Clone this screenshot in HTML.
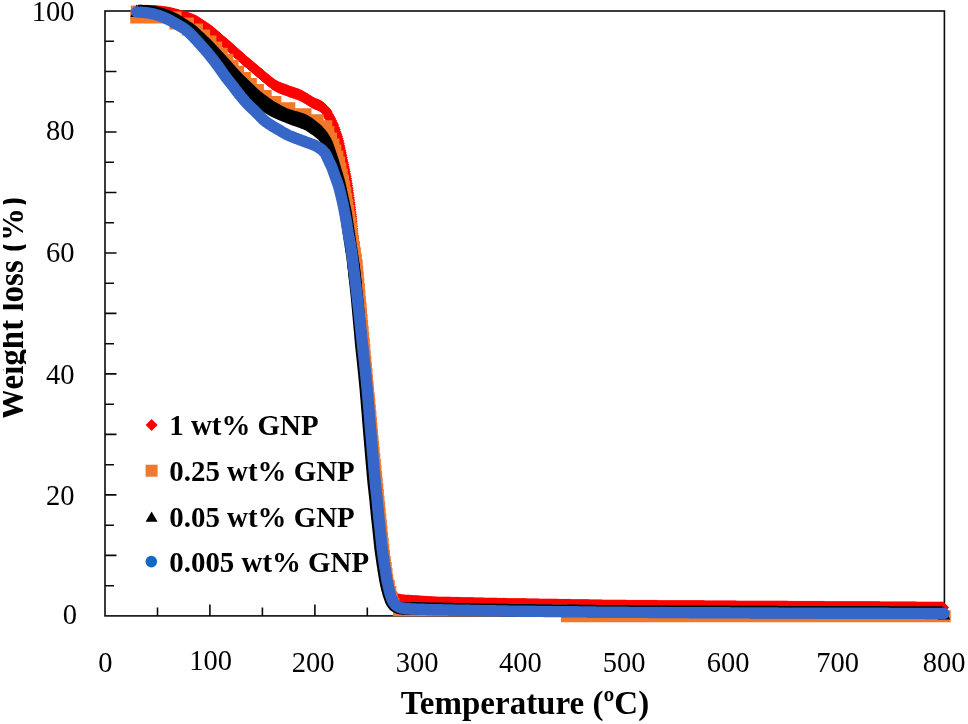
<!DOCTYPE html><html><head><meta charset="utf-8"><title>TGA</title><style>
html,body{margin:0;padding:0;background:#fff}
#c{position:relative;width:968px;height:724px;overflow:hidden;background:#fff;font-family:"Liberation Serif",serif;color:#000;will-change:transform}
.t{position:absolute;white-space:nowrap;line-height:1}
.yl{font-size:28.5px;text-align:right}
.xl{font-size:28.5px;transform:translateX(-50%)}
.lg{font-size:28.9px;font-weight:bold;left:169.3px}
.ttl{font-size:33px;font-weight:bold}
#yclip{position:absolute;left:2.9px;top:180px;width:22.7px;height:260px;overflow:hidden}
</style></head><body><div id="c">
<svg width="968" height="724" viewBox="0 0 968 724" style="position:absolute;left:0;top:0">
<defs><marker id="md" markerUnits="userSpaceOnUse" markerWidth="14" markerHeight="14" refX="7" refY="7"><path d="M7,1L13,7L7,13L1,7Z" fill="#ff0000"/></marker></defs>
<g stroke="#0a0a0a" stroke-width="1.6" fill="none">
<rect x="105.0" y="11.0" width="839.4" height="604.9"/>
<path d="M105.0,585.7h9M105.0,555.4h11.5M105.0,525.2h9M105.0,494.9h11.5M105.0,464.7h9M105.0,434.4h11.5M105.0,404.2h9M105.0,373.9h11.5M105.0,343.7h9M105.0,313.4h11.5M105.0,283.2h9M105.0,253h11.5M105.0,222.7h9M105.0,192.5h11.5M105.0,162.2h9M105.0,132h11.5M105.0,101.7h9M105.0,71.5h11.5M105.0,41.2h9M157.5,615.9v-8.3M209.9,615.9v-11.5M262.4,615.9v-8.3M314.9,615.9v-11.5M367.3,615.9v-8.3M419.8,615.9v-11.5M472.2,615.9v-8.3M524.7,615.9v-11.5M577.2,615.9v-8.3M629.6,615.9v-11.5M682.1,615.9v-8.3M734.5,615.9v-11.5M787,615.9v-8.3M839.5,615.9v-11.5M891.9,615.9v-8.3"/></g>
<polyline points="138.4,10.8 138.8,10.8 139.4,10.8 140.1,10.8 140.9,10.8 141.7,10.8 142.5,10.8 143.3,10.8 144.1,10.8 144.9,10.8 145.7,10.8 146.5,10.8 147.3,10.8 148.1,10.8 148.9,10.9 149.7,10.9 150.5,10.9 151.3,10.9 152.1,11 152.9,11 153.7,11 154.5,11.1 155.3,11.1 156.1,11.1 156.9,11.2 157.7,11.3 158.5,11.3 159.3,11.4 160.1,11.5 160.9,11.6 161.6,11.7 162.4,11.8 163.2,11.9 164,12 164.8,12.1 165.6,12.2 166.4,12.3 167.2,12.4 168,12.6 168.8,12.7 169.6,12.8 170.3,13 171.1,13.2 171.9,13.4 172.7,13.6 173.5,13.8 174.2,14 175,14.2 175.8,14.4 176.5,14.6 177.3,14.8 178.1,15.1 178.8,15.3 179.6,15.5 180.4,15.7 181.2,15.9 181.9,16.1 182.7,16.4 183.5,16.6 184.2,16.8 185,17.1 185.8,17.3 186.5,17.5 187.3,17.8 188,18 188.8,18.3 189.5,18.6 190.3,18.8 191.1,19.1 191.8,19.4 192.6,19.6 193.3,19.9 194,20.2 194.8,20.6 195.5,20.9 196.2,21.3 196.9,21.7 197.6,22.1 198.2,22.5 198.9,23 199.6,23.4 200.2,23.8 200.9,24.3 201.6,24.7 202.3,25.2 202.9,25.6 203.6,26.1 204.3,26.5 204.9,26.9 205.6,27.4 206.3,27.8 206.9,28.3 207.6,28.7 208.2,29.2 208.9,29.6 209.5,30.1 210.2,30.6 210.8,31 211.5,31.5 212.1,32 212.7,32.6 213.3,33.1 213.9,33.6 214.5,34.1 215.1,34.6 215.7,35.2 216.3,35.7 216.9,36.2 217.6,36.7 218.2,37.2 218.8,37.8 219.4,38.3 220,38.8 220.6,39.3 221.2,39.8 221.8,40.4 222.4,40.9 223,41.4 223.6,41.9 224.2,42.4 224.8,43 225.4,43.5 226.1,44 226.7,44.5 227.3,45.1 227.9,45.6 228.5,46.1 229.1,46.6 229.7,47.2 230.3,47.7 230.9,48.2 231.5,48.8 232.1,49.3 232.7,49.8 233.3,50.4 233.9,50.9 234.5,51.4 235.1,51.9 235.7,52.5 236.2,53 236.8,53.5 237.4,54.1 238,54.6 238.6,55.1 239.2,55.7 239.8,56.2 240.4,56.7 241,57.3 241.6,57.8 242.2,58.3 242.8,58.9 243.4,59.4 244,59.9 244.6,60.4 245.2,61 245.8,61.5 246.4,62 247.1,62.5 247.7,63 248.3,63.6 248.9,64.1 249.5,64.6 250.1,65.1 250.7,65.6 251.3,66.1 252,66.6 252.6,67.1 253.2,67.7 253.8,68.2 254.4,68.7 255,69.2 255.6,69.7 256.3,70.2 256.9,70.7 257.5,71.2 258.1,71.8 258.7,72.3 259.3,72.8 260,73.3 260.6,73.8 261.2,74.3 261.8,74.8 262.4,75.3 263,75.9 263.6,76.4 264.3,76.9 264.9,77.4 265.5,77.9 266.1,78.4 266.7,78.9 267.3,79.5 267.9,80 268.5,80.5 269.1,81 269.7,81.5 270.4,82 271,82.5 271.6,83 272.3,83.5 272.9,84 273.6,84.4 274.2,84.9 274.9,85.3 275.6,85.7 276.3,86.1 277,86.5 277.7,86.8 278.4,87.2 279.2,87.5 279.9,87.8 280.6,88.1 281.4,88.4 282.1,88.7 282.9,89 283.6,89.2 284.4,89.5 285.1,89.8 285.9,90.1 286.6,90.3 287.4,90.6 288.1,90.9 288.9,91.2 289.6,91.4 290.4,91.7 291.2,92 291.9,92.2 292.7,92.5 293.4,92.7 294.2,93 294.9,93.3 295.7,93.5 296.4,93.8 297.2,94.1 298,94.3 298.7,94.6 299.4,94.9 300.2,95.3 300.9,95.6 301.6,96 302.3,96.3 303,96.7 303.7,97.1 304.4,97.5 305.1,97.9 305.8,98.3 306.5,98.7 307.2,99.1 307.8,99.6 308.5,100 309.2,100.4 309.9,100.8 310.6,101.3 311.2,101.7 311.9,102.1 312.6,102.5 313.3,102.9 314,103.2 314.8,103.6 315.5,103.9 316.2,104.2 317,104.5 317.7,104.8 318.4,105.1 319.2,105.5 319.9,105.8 320.6,106.2 321.3,106.6 322,107 322.6,107.4 323.2,108 323.8,108.5 324.3,109.1 324.8,109.7 325.3,110.3 325.8,111 326.2,111.6 326.7,112.3 327.9,114.4 329,116.5 330.1,118.6 331.2,120.8 332.2,122.9 333.2,125.1 334,127.4 334.8,129.6 335.5,131.9 336.3,134.2 337,136.5 337.7,138.8 338.4,141.1 338.9,143.4 339.4,145.8 339.9,148.1 340.4,150.5 340.9,152.8 341.4,155.2 341.9,157.5 342.4,159.9 342.8,162.2 343.3,164.6 343.8,166.9 344.3,169.3 344.7,171.6 345.2,174 345.7,176.3 346.1,178.7 346.5,181.1 346.9,183.4 347.2,185.8 347.6,188.2 347.9,190.6 348.2,192.9 348.5,195.3 348.9,197.7 349.2,200.1 349.5,202.5 349.8,204.8 350.1,207.2 350.4,209.6 350.7,212 350.9,214.4 351.2,216.8 351.4,219.1 351.6,221.5 351.8,223.9 352,226.3 352.2,228.7 352.4,231.1 352.6,233.5 352.8,235.9 353,238.3 353.2,240.7 353.4,243.1 353.5,245.5 353.7,247.9 353.8,250.2 354,252.6 354.2,255 354.3,257.4 354.5,259.8 354.6,262.2 354.8,264.6 355,267 355.1,269.4 355.3,271.8 355.5,274.2 355.6,276.6 355.8,279 356.1,281.4 356.4,283.7 356.7,286.1 357,288.5 357.3,290.9 357.6,293.3 357.9,295.7 358.2,298 358.5,300.4 358.7,302.8 359,305.2 359.2,307.6 359.5,310 359.8,312.3 360,314.7 360.3,317.1 360.6,319.5 360.8,321.9 361.1,324.3 361.4,326.7 361.6,329 361.9,331.4 362.1,333.8 362.4,336.2 362.6,338.6 362.9,341 363.1,343.4 363.4,345.8 363.7,348.1 363.9,350.5 364.2,352.9 364.5,355.3 364.7,357.7 365,360.1 365.2,362.4 365.5,364.8 365.8,367.2 366,369.6 366.3,372 366.5,374.4 366.7,376.8 367,379.2 367.2,381.5 367.4,383.9 367.7,386.3 367.9,388.7 368.1,391.1 368.4,393.5 368.6,395.9 368.8,398.3 369,400.7 369.2,403.1 369.4,405.4 369.6,407.8 369.8,410.2 370,412.6 370.2,415 370.4,417.4 370.6,419.8 370.8,422.2 371,424.6 371.2,427 371.4,429.4 371.6,431.8 371.8,434.1 372,436.5 372.2,438.9 372.4,441.3 372.6,443.7 372.8,446.1 373.1,448.5 373.3,450.9 373.5,453.3 373.7,455.7 373.9,458.1 374.1,460.4 374.3,462.8 374.5,465.2 374.7,467.6 374.9,470 375.1,472.4 375.3,474.8 375.5,477.2 375.8,479.6 376,482 376.2,484.4 376.5,486.7 376.7,489.1 377,491.5 377.3,493.9 377.5,496.3 377.8,498.7 378.1,501.1 378.3,503.4 378.5,505.8 378.7,508.2 379,510.6 379.2,513 379.4,515.4 379.7,517.8 379.9,520.2 380.2,522.5 380.5,524.9 380.7,527.3 381,529.7 381.2,532.1 381.5,534.5 381.7,536.9 382,539.2 382.2,541.6 382.5,544 382.7,546.4 383,548.8 383.3,551.2 383.6,553.6 384,555.9 384.3,558.3 384.7,560.7 385,563.1 385.4,565.4 385.7,567.8 386.1,570.2 386.5,572.5 386.9,574.9 387.3,577.3 387.7,579.6 388.1,582 388.7,584.3 389.2,586.7 389.8,589 390.7,591.2 391.3,592.7 391.6,593.4 392,594.1 392.4,594.8 392.8,595.5 393.3,596.1 393.9,596.7 394.4,597.2 395,597.7 395.7,598.2 396.4,598.6 397.1,598.9 397.8,599.2 398.6,599.4 399.4,599.6 400.1,599.8 400.9,599.9 401.7,600.1 402.5,600.2 403.3,600.2 404.1,600.3 404.9,600.4 405.7,600.4 406.5,600.5 407.3,600.5 408.1,600.6 408.9,600.6 409.7,600.7 410.5,600.7 411.3,600.8 412.1,600.8 412.9,600.9 413.7,600.9 414.5,601 415.3,601 416.1,601.1 416.9,601.1 417.7,601.2 418.5,601.2 419.3,601.3 420.1,601.3 420.9,601.4 421.7,601.5 422.5,601.5 423.3,601.6 424.1,601.6 424.9,601.7 425.7,601.7 426.5,601.8 427.3,601.8 428,601.9 428.8,601.9 429.6,602 430.4,602 431.2,602.1 432,602.1 432.8,602.2 433.6,602.2 434.4,602.2 435.2,602.3 436,602.3 436.8,602.3 437.6,602.4 438.4,602.4 439.2,602.4 440,602.4 440.8,602.4 441.6,602.4 442.4,602.5 443.2,602.5 444,602.5 444.8,602.5 445.6,602.5 446.4,602.5 447.2,602.6 448,602.6 448.8,602.6 449.6,602.6 450.4,602.6 451.2,602.7 452,602.7 452.8,602.7 453.6,602.7 454.4,602.7 455.2,602.7 456,602.8 456.8,602.8 457.6,602.8 458.4,602.8 459.2,602.8 460,602.8 460.8,602.9 461.6,602.9 462.4,602.9 463.2,602.9 464,602.9 464.8,602.9 465.6,603 466.4,603 467.2,603 468,603 468.8,603 469.6,603.1 470.4,603.1 471.2,603.1 472,603.1 472.8,603.1 473.6,603.1 474.4,603.2 475.2,603.2 476,603.2 476.8,603.2 477.6,603.2 478.4,603.2 479.2,603.3 480,603.3 480.8,603.3 481.6,603.3 482.4,603.3 483.2,603.3 484,603.4 484.8,603.4 485.6,603.4 486.4,603.4 487.2,603.4 488,603.5 488.8,603.5 489.6,603.5 490.4,603.5 491.2,603.5 492,603.5 492.8,603.6 493.6,603.6 494.4,603.6 495.2,603.6 496,603.6 496.8,603.6 497.6,603.7 498.4,603.7 499.2,603.7 500,603.7 500.8,603.7 501.6,603.7 502.4,603.8 503.2,603.8 504,603.8 504.8,603.8 505.6,603.8 506.4,603.8 507.2,603.9 508,603.9 508.8,603.9 509.6,603.9 510.4,603.9 511.2,603.9 512,603.9 512.8,603.9 513.6,604 514.4,604 515.2,604 516,604 516.8,604 517.6,604 518.4,604 519.2,604 520,604.1 520.8,604.1 521.6,604.1 522.4,604.1 523.2,604.1 524,604.1 524.8,604.1 525.6,604.1 526.4,604.2 527.2,604.2 528,604.2 528.8,604.2 529.6,604.2 530.4,604.2 531.2,604.2 532,604.2 532.8,604.3 533.6,604.3 534.4,604.3 535.2,604.3 536,604.3 536.8,604.3 537.6,604.3 538.4,604.3 539.2,604.4 540,604.4 540.8,604.4 541.6,604.4 542.4,604.4 543.2,604.4 544,604.4 544.8,604.4 545.6,604.5 546.4,604.5 547.2,604.5 548,604.5 548.8,604.5 549.6,604.5 550.4,604.5 551.2,604.5 552,604.6 552.8,604.6 553.6,604.6 554.4,604.6 555.2,604.6 556,604.6 556.8,604.6 557.6,604.6 558.4,604.7 559.2,604.7 560,604.7 560.8,604.7 561.6,604.7 562.4,604.7 563.2,604.7 564,604.7 564.8,604.8 565.6,604.8 566.4,604.8 567.2,604.8 568,604.8 568.8,604.8 569.6,604.8 570.4,604.8 571.2,604.9 572,604.9 572.8,604.9 573.6,604.9 574.4,604.9 575.2,604.9 576,604.9 576.8,604.9 577.6,605 578.4,605 579.2,605 580,605 580.8,605 581.6,605 582.4,605 583.2,605.1 584,605.1 584.8,605.1 585.6,605.1 586.4,605.1 587.2,605.1 588,605.1 588.8,605.1 589.6,605.2 590.4,605.2 591.2,605.2 592,605.2 592.8,605.2 593.6,605.2 594.4,605.2 595.2,605.2 596,605.3 596.8,605.3 597.6,605.3 598.4,605.3 599.2,605.3 600,605.3 600.8,605.3 601.6,605.3 602.4,605.4 603.2,605.4 604,605.4 604.8,605.4 605.6,605.4 606.4,605.4 607.2,605.4 608,605.4 608.8,605.5 609.6,605.5 610.4,605.5 611.2,605.5 612,605.5 612.8,605.5 613.6,605.5 614.4,605.5 615.2,605.6 616,605.6 616.8,605.6 617.6,605.6 618.4,605.6 619.2,605.6 620,605.6 620.8,605.6 621.6,605.6 622.4,605.6 623.2,605.6 624,605.6 624.8,605.6 625.6,605.6 626.4,605.7 627.2,605.7 628,605.7 628.8,605.7 629.6,605.7 630.4,605.7 631.2,605.7 632,605.7 632.8,605.7 633.6,605.7 634.4,605.7 635.2,605.7 636,605.7 636.8,605.7 637.6,605.7 638.4,605.7 639.2,605.7 640,605.7 640.8,605.7 641.6,605.7 642.4,605.8 643.2,605.8 644,605.8 644.8,605.8 645.6,605.8 646.4,605.8 647.2,605.8 648,605.8 648.8,605.8 649.6,605.8 650.4,605.8 651.2,605.8 652,605.8 652.8,605.8 653.6,605.8 654.4,605.8 655.2,605.8 656,605.8 656.8,605.8 657.6,605.9 658.4,605.9 659.2,605.9 660,605.9 660.8,605.9 661.6,605.9 662.4,605.9 663.2,605.9 664,605.9 664.8,605.9 665.6,605.9 666.4,605.9 667.2,605.9 668,605.9 668.8,605.9 669.6,605.9 670.4,605.9 671.2,605.9 672,605.9 672.8,605.9 673.6,606 674.4,606 675.2,606 676,606 676.8,606 677.6,606 678.4,606 679.2,606 680,606 680.8,606 681.6,606 682.4,606 683.2,606 684,606 684.8,606 685.6,606 686.4,606 687.2,606 688,606 688.8,606 689.6,606.1 690.4,606.1 691.2,606.1 692,606.1 692.8,606.1 693.6,606.1 694.4,606.1 695.2,606.1 696,606.1 696.8,606.1 697.6,606.1 698.4,606.1 699.2,606.1 700,606.1 700.8,606.1 701.6,606.1 702.4,606.1 703.2,606.1 704,606.1 704.8,606.2 705.6,606.2 706.4,606.2 707.2,606.2 708,606.2 708.8,606.2 709.6,606.2 710.4,606.2 711.2,606.2 712,606.2 712.8,606.2 713.6,606.2 714.4,606.2 715.2,606.2 716,606.2 716.8,606.2 717.6,606.2 718.4,606.2 719.2,606.2 720,606.2 720.8,606.3 721.6,606.3 722.4,606.3 723.2,606.3 724,606.3 724.8,606.3 725.6,606.3 726.4,606.3 727.2,606.3 728,606.3 728.8,606.3 729.6,606.3 730.4,606.3 731.2,606.3 732,606.3 732.8,606.3 733.6,606.3 734.4,606.3 735.2,606.3 736,606.3 736.8,606.4 737.6,606.4 738.4,606.4 739.2,606.4 740,606.4 740.8,606.4 741.6,606.4 742.4,606.4 743.2,606.4 744,606.4 744.8,606.4 745.6,606.4 746.4,606.4 747.2,606.4 748,606.4 748.8,606.4 749.6,606.4 750.4,606.4 751.2,606.4 752,606.4 752.8,606.5 753.6,606.5 754.4,606.5 755.2,606.5 756,606.5 756.8,606.5 757.6,606.5 758.4,606.5 759.2,606.5 760,606.5 760.8,606.5 761.6,606.5 762.4,606.5 763.2,606.5 764,606.5 764.8,606.5 765.6,606.5 766.4,606.5 767.2,606.5 768,606.5 768.8,606.5 769.6,606.6 770.4,606.6 771.2,606.6 772,606.6 772.8,606.6 773.6,606.6 774.4,606.6 775.2,606.6 776,606.6 776.8,606.6 777.6,606.6 778.4,606.6 779.2,606.6 780,606.6 780.8,606.6 781.6,606.6 782.4,606.6 783.2,606.6 784,606.6 784.8,606.6 785.6,606.6 786.4,606.6 787.2,606.6 788,606.7 788.8,606.7 789.6,606.7 790.4,606.7 791.2,606.7 792,606.7 792.8,606.7 793.6,606.7 794.4,606.7 795.2,606.7 796,606.7 796.8,606.7 797.6,606.7 798.4,606.7 799.2,606.7 800,606.7 800.8,606.7 801.6,606.7 802.4,606.7 803.2,606.7 804,606.7 804.8,606.7 805.6,606.7 806.4,606.8 807.2,606.8 808,606.8 808.8,606.8 809.6,606.8 810.4,606.8 811.2,606.8 812,606.8 812.8,606.8 813.6,606.8 814.4,606.8 815.2,606.8 816,606.8 816.8,606.8 817.6,606.8 818.4,606.8 819.2,606.8 820,606.8 820.8,606.8 821.6,606.8 822.4,606.8 823.2,606.8 824,606.8 824.8,606.9 825.6,606.9 826.4,606.9 827.2,606.9 828,606.9 828.8,606.9 829.6,606.9 830.4,606.9 831.2,606.9 832,606.9 832.8,606.9 833.6,606.9 834.4,606.9 835.2,606.9 836,606.9 836.8,606.9 837.6,606.9 838.4,606.9 839.2,606.9 840,606.9 840.8,606.9 841.6,606.9 842.4,606.9 843.2,607 844,607 844.8,607 845.6,607 846.4,607 847.2,607 848,607 848.8,607 849.6,607 850.4,607 851.2,607 852,607 852.8,607 853.6,607 854.4,607 855.2,607 856,607 856.8,607 857.6,607 858.4,607 859.2,607 860,607 860.8,607 861.6,607.1 862.4,607.1 863.2,607.1 864,607.1 864.8,607.1 865.6,607.1 866.4,607.1 867.2,607.1 868,607.1 868.8,607.1 869.6,607.1 870.4,607.1 871.2,607.1 872,607.1 872.8,607.1 873.6,607.1 874.4,607.1 875.2,607.1 876,607.1 876.8,607.1 877.6,607.1 878.4,607.1 879.2,607.1 880,607.2 880.8,607.2 881.6,607.2 882.4,607.2 883.2,607.2 884,607.2 884.8,607.2 885.6,607.2 886.4,607.2 887.2,607.2 888,607.2 888.8,607.2 889.6,607.2 890.4,607.2 891.2,607.2 892,607.2 892.8,607.2 893.6,607.2 894.4,607.2 895.2,607.2 896,607.2 896.8,607.2 897.6,607.2 898.4,607.3 899.2,607.3 900,607.3 900.8,607.3 901.6,607.3 902.4,607.3 903.2,607.3 904,607.3 904.8,607.3 905.6,607.3 906.4,607.3 907.2,607.3 908,607.3 908.8,607.3 909.6,607.3 910.4,607.3 911.2,607.3 912,607.3 912.8,607.3 913.6,607.3 914.4,607.3 915.2,607.3 916,607.3 916.8,607.4 917.6,607.4 918.4,607.4 919.2,607.4 920,607.4 920.8,607.4 921.6,607.4 922.4,607.4 923.2,607.4 924,607.4 924.8,607.4 925.6,607.4 926.4,607.4 927.2,607.4 928,607.4 928.8,607.4 929.6,607.4 930.4,607.4 931.2,607.4 932,607.4 932.8,607.4 933.6,607.4 934.4,607.4 935.2,607.5 936,607.5 936.8,607.5 937.6,607.5 938.4,607.5 939.2,607.5 940,607.5 940.8,607.5 941.5,607.5 942.1,607.5 942.6,607.5 943,607.5" fill="none" stroke="none" marker-start="url(#md)" marker-mid="url(#md)" marker-end="url(#md)"/>
<path d="M130.2,11.4h51.3v12h-51.3zM169.5,17.4h24.4v12h-24.4zM181.9,23.5h21.1v12h-21.1zM191,29.5h19.1v12h-19.1zM198.1,35.6h18.3v12h-18.3zM204.4,41.6h17.8v12h-17.8zM210.2,47.7h17.5v12h-17.5zM215.7,53.8h17.6v12h-17.6zM221.3,59.8h17.3v12h-17.3zM226.6,65.8h17.4v12h-17.4zM232,71.9h18.9v12h-18.9zM238.9,77.9h17.9v12h-17.9zM244.8,84h19.1v12h-19.1zM251.9,90h19.8v12h-19.8zM259.7,96.1h21.7v12h-21.7zM269.4,102.2h25.9v12h-25.9zM283.3,108.2h28.2v12h-28.2zM299.5,114.2h24.1v12h-24.1zM311.6,120.3h20.7v12h-20.7zM325.4,126.3h9v12h-9zM328,132.4h9v12h-9zM330.5,138.4h9v12h-9zM332.4,144.5h9v12h-9zM334.4,150.6h9v12h-9zM336,156.6h9v12h-9zM337.4,162.7h9v12h-9zM338.7,168.7h9v12h-9zM340.1,174.8h9v12h-9zM341.2,180.8h9v12h-9zM342.3,186.8h9v12h-9zM343.3,192.9h9v12h-9zM344.3,198.9h9v12h-9zM345.3,205h9v12h-9zM346.3,211.1h9v12h-9zM347.2,217.1h9v12h-9zM348.1,223.2h9v12h-9zM349.1,229.2h9v12h-9zM350,235.2h9v12h-9zM351,241.3h9v12h-9zM351.9,247.3h9v12h-9zM352.9,253.4h9v12h-9zM353.7,259.4h9v12h-9zM354.2,265.5h9v12h-9zM354.8,271.5h9v12h-9zM355.3,277.6h9v12h-9zM355.9,283.6h9v12h-9zM356.4,289.7h9v12h-9zM356.9,295.7h9v12h-9zM357.5,301.8h9v12h-9zM358,307.8h9v12h-9zM358.6,313.9h9v12h-9zM359.1,319.9h9v12h-9zM359.7,326h9v12h-9zM360.2,332h9v12h-9zM360.8,338.1h9v12h-9zM361.3,344.1h9v12h-9zM361.8,350.2h9v12h-9zM362.4,356.2h9v12h-9zM362.9,362.3h9v12h-9zM363.5,368.3h9v12h-9zM364,374.4h9v12h-9zM364.6,380.4h9v12h-9zM365.1,386.5h9v12h-9zM365.7,392.5h9v12h-9zM366.3,398.6h9v12h-9zM366.8,404.6h9v12h-9zM367.4,410.7h9v12h-9zM367.9,416.7h9v12h-9zM368.5,422.8h9v12h-9zM369,428.8h9v12h-9zM369.6,434.9h9v12h-9zM370.1,440.9h9v12h-9zM370.7,447h9v12h-9zM371.3,453h9v12h-9zM371.9,459.1h9v12h-9zM372.5,465.1h9v12h-9zM373.1,471.2h9v12h-9zM373.7,477.2h9v12h-9zM374.3,483.3h9v12h-9zM374.9,489.3h9v12h-9zM375.5,495.4h9v12h-9zM376.1,501.4h9v12h-9zM376.7,507.5h9v12h-9zM377.3,513.5h9v12h-9zM377.9,519.6h9v12h-9zM378.5,525.6h9v12h-9zM379.1,531.7h9v12h-9zM379.7,537.8h9v12h-9zM380.3,543.8h9v12h-9zM381,549.8h9v12h-9zM381.8,555.9h9v12h-9zM382.7,561.9h9v12h-9zM383.5,568h9v12h-9zM384.3,574h9v12h-9zM385.8,580.1h9v12h-9zM387.3,586.1h9v12h-9zM388.8,592.2h9v12h-9zM390.3,598.2h9v12h-9zM393,604.3h174v12h-174zM561,610.3h389.7v12h-389.7zM130.8,5.4h12v12h-12z" fill="#f07828"/>
<path d="M138,4.7 138.4,4.7 139,4.7 139.7,4.7 140.5,4.8 141.3,4.8 142.1,4.8 142.9,4.9 143.7,4.9 144.5,5 145.3,5 146.1,5 146.9,5.1 147.7,5.1 148.5,5.2 149.3,5.2 150.1,5.3 150.9,5.4 151.6,5.5 152.4,5.7 153.2,5.8 154,5.9 154.8,6.1 155.6,6.2 156.4,6.4 157.2,6.5 157.9,6.7 158.7,6.8 159.5,7 160.3,7.2 161.1,7.4 161.8,7.6 162.6,7.9 163.3,8.1 164.1,8.4 164.9,8.6 165.6,8.9 166.4,9.1 167.1,9.4 167.9,9.6 168.7,9.9 169.4,10.2 170.1,10.5 170.9,10.8 171.6,11.1 172.3,11.4 173.1,11.8 173.8,12.1 174.5,12.4 175.2,12.8 176,13.1 176.7,13.5 177.4,13.8 178.1,14.2 178.8,14.6 179.5,15 180.2,15.4 180.9,15.8 181.6,16.2 182.2,16.6 182.9,17.1 183.6,17.5 184.3,17.9 184.9,18.4 185.6,18.8 186.3,19.2 187,19.7 187.6,20.1 188.3,20.5 189,21 189.7,21.4 190.3,21.8 191,22.3 191.7,22.7 192.3,23.1 193,23.6 193.6,24.1 194.3,24.5 194.9,25 195.5,25.5 196.1,26.1 196.7,26.6 197.3,27.1 197.9,27.7 198.5,28.2 199.1,28.8 199.7,29.3 200.3,29.8 200.9,30.4 201.4,30.9 202,31.5 202.6,32 203.2,32.6 203.8,33.1 204.4,33.6 205,34.2 205.5,34.7 206.1,35.3 206.7,35.8 207.3,36.4 207.9,36.9 208.5,37.5 209.1,38 209.6,38.6 210.2,39.1 210.8,39.7 211.3,40.2 211.9,40.8 212.5,41.4 213,42 213.5,42.6 214.1,43.1 214.6,43.7 215.2,44.3 215.7,44.9 216.3,45.5 216.8,46.1 217.4,46.7 217.9,47.2 218.5,47.8 219,48.4 219.5,49 220.1,49.6 220.6,50.2 221.2,50.8 221.7,51.3 222.3,51.9 222.8,52.5 223.4,53.1 223.9,53.7 224.4,54.3 225,54.9 225.5,55.5 226.1,56 226.6,56.6 227.1,57.2 227.7,57.8 228.2,58.4 228.7,59 229.3,59.6 229.8,60.2 230.3,60.8 230.9,61.4 231.4,62 231.9,62.6 232.5,63.2 233,63.8 233.5,64.4 234,65 234.6,65.6 235.1,66.2 235.6,66.8 236.2,67.4 236.7,68 237.2,68.6 237.8,69.2 238.3,69.8 238.8,70.4 239.4,71 239.9,71.6 240.5,72.1 241,72.7 241.6,73.3 242.1,73.9 242.7,74.4 243.3,75 243.9,75.5 244.4,76.1 245,76.7 245.6,77.2 246.1,77.8 246.7,78.3 247.3,78.9 247.9,79.4 248.4,80 249,80.6 249.6,81.1 250.2,81.7 250.7,82.2 251.3,82.8 251.9,83.3 252.5,83.9 253,84.4 253.6,85 254.2,85.6 254.8,86.1 255.3,86.7 255.9,87.2 256.5,87.8 257.1,88.3 257.7,88.9 258.3,89.4 258.9,90 259.5,90.5 260.1,91 260.7,91.5 261.3,92 262,92.5 262.6,93 263.2,93.4 263.9,93.9 264.5,94.4 265.2,94.9 265.8,95.3 266.4,95.8 267.1,96.3 267.7,96.8 268.4,97.3 269,97.7 269.7,98.2 270.3,98.7 270.9,99.1 271.6,99.6 272.3,100.1 272.9,100.5 273.6,100.9 274.3,101.4 275,101.8 275.7,102.2 276.4,102.6 277,103 277.7,103.3 278.4,103.7 279.1,104.1 279.8,104.5 280.5,104.9 281.2,105.3 281.9,105.7 282.6,106.1 283.3,106.5 284,106.8 284.8,107.2 285.5,107.6 286.2,107.9 286.9,108.2 287.7,108.5 288.4,108.8 289.2,109.1 289.9,109.3 290.7,109.6 291.5,109.8 292.2,110 293,110.2 293.8,110.5 294.5,110.7 295.3,110.9 296.1,111.1 296.8,111.3 297.6,111.6 298.4,111.8 299.1,112 299.9,112.2 300.7,112.5 301.4,112.7 302.2,112.9 303,113.2 303.7,113.4 304.5,113.7 305.2,114 305.9,114.4 306.6,114.8 307.3,115.1 308,115.5 308.7,115.9 309.4,116.3 310.1,116.8 310.8,117.2 311.4,117.6 312.1,118 312.8,118.5 313.4,118.9 314.1,119.4 314.7,119.9 315.3,120.4 316,120.9 316.6,121.4 317.2,121.9 317.8,122.4 318.5,122.9 319.1,123.4 319.7,123.9 320.3,124.5 320.8,125 321.4,125.6 322,126.1 322.5,126.7 323.1,127.3 323.6,127.9 324.2,128.5 324.7,129.1 325.2,129.7 325.8,130.3 326.3,130.9 326.8,131.5 327.2,132.2 327.7,132.8 328.1,133.5 328.5,134.2 329,134.8 329.4,135.5 329.8,136.2 330.2,136.9 330.6,137.6 331,138.3 331.4,139 331.7,139.7 332.1,140.4 332.4,141.2 332.7,141.9 333,142.6 333.3,143.4 333.5,144.1 333.8,144.9 334.1,145.7 334.3,146.4 334.6,147.2 334.9,147.9 335.1,148.7 335.4,149.4 335.6,150.2 335.9,151 336.2,151.7 336.4,152.5 336.7,153.2 336.9,154 337.2,154.7 337.4,155.5 337.7,156.3 337.9,157 338.2,157.8 338.4,158.6 338.6,159.3 338.9,160.1 339.1,160.8 339.3,161.6 339.6,162.4 339.8,163.1 340,163.9 340.3,164.7 340.5,165.4 340.7,166.2 340.9,167 341.2,167.7 341.4,168.5 341.6,169.3 341.9,170 342.1,170.8 342.3,171.6 342.6,172.3 342.8,173.1 343,173.9 343.2,174.6 343.5,175.4 343.7,176.2 343.9,176.9 344.2,177.7 344.4,178.5 344.6,179.2 344.8,180 345,180.8 345.2,181.6 345.4,182.3 345.6,183.1 345.7,183.9 345.9,184.7 346.1,185.5 346.3,186.2 346.4,187 346.6,187.8 346.8,188.6 347,189.4 347.1,190.2 347.3,190.9 347.5,191.7 347.6,192.5 347.8,193.3 348,194.1 348.2,194.8 348.3,195.6 348.5,196.4 348.7,197.2 348.8,198 349,198.7 349.2,199.5 349.4,200.3 349.5,201.1 349.7,201.9 349.9,202.7 350,203.4 350.2,204.2 350.4,205 350.6,205.8 350.7,206.6 350.9,207.3 351.1,208.1 351.2,208.9 351.4,209.7 351.5,210.5 351.7,211.3 351.8,212.1 351.9,212.8 352.1,213.6 352.2,214.4 352.3,215.2 352.4,216 352.5,216.8 352.7,217.6 352.8,218.4 352.9,219.2 353,220 353.1,220.8 353.3,221.5 353.4,222.3 353.5,223.1 353.6,223.9 353.7,224.7 353.9,225.5 354,226.3 354.1,227.1 354.2,227.9 354.3,228.7 354.4,229.5 354.6,230.2 354.7,231 354.8,231.8 354.9,232.6 355,233.4 355.2,234.2 355.3,235 355.4,235.8 355.5,236.6 355.6,237.4 355.7,238.2 355.9,239 356,239.7 356.1,240.5 356.2,241.3 356.3,242.1 356.5,242.9 356.6,243.7 356.7,244.5 356.8,245.3 356.9,246.1 357.1,246.9 357.2,247.7 357.3,248.4 357.4,249.2 357.5,250 357.6,250.8 357.8,251.6 357.9,252.4 358,253.2 358.1,254 358.2,254.8 358.4,255.6 358.5,256.4 358.6,257.1 358.7,257.9 358.8,258.7 358.9,259.5 359,260.3 359.2,261.1 359.3,261.9 359.4,262.7 359.5,263.5 359.5,264.3 359.6,265.1 359.7,265.9 359.8,266.7 359.9,267.5 360,268.3 360.1,269.1 360.2,269.8 360.3,270.6 360.4,271.4 360.5,272.2 360.6,273 360.7,273.8 360.8,274.6 360.9,275.4 361,276.2 361.1,277 361.1,277.8 361.2,278.6 361.3,279.4 361.4,280.2 361.5,281 361.6,281.8 361.7,282.5 361.8,283.1 361.8,283.7 361.9,284.1 349.5,284 349.4,283.5 349.4,283 349.3,282.3 349.2,281.5 349.1,280.7 349,279.9 348.9,279.1 348.8,278.3 348.7,277.5 348.6,276.7 348.5,276 348.4,275.2 348.3,274.4 348.2,273.6 348.2,272.8 348.1,272 348,271.2 347.9,270.4 347.8,269.6 347.7,268.8 347.6,268 347.5,267.2 347.4,266.4 347.3,265.6 347.2,264.8 347.1,264 347,263.2 346.9,262.4 346.8,261.7 346.7,260.9 346.6,260.1 346.5,259.3 346.4,258.5 346.3,257.7 346.2,256.9 346,256.1 345.9,255.3 345.8,254.5 345.7,253.7 345.6,252.9 345.4,252.2 345.3,251.4 345.2,250.6 345.1,249.8 345,249 344.9,248.2 344.7,247.4 344.6,246.6 344.5,245.8 344.4,245 344.3,244.2 344.1,243.5 344,242.7 343.9,241.9 343.8,241.1 343.7,240.3 343.5,239.5 343.4,238.7 343.3,237.9 343.2,237.1 343.1,236.3 343,235.5 342.8,234.7 342.7,234 342.6,233.2 342.5,232.4 342.4,231.6 342.2,230.8 342.1,230 342,229.2 341.9,228.4 341.8,227.6 341.7,226.8 341.5,226 341.4,225.3 341.3,224.5 341.2,223.7 341.1,222.9 340.9,222.1 340.8,221.3 340.7,220.5 340.6,219.7 340.5,218.9 340.3,218.1 340.2,217.3 340.1,216.6 340,215.8 339.9,215 339.7,214.2 339.6,213.4 339.5,212.6 339.4,211.8 339.2,211 339.1,210.2 338.9,209.4 338.8,208.7 338.6,207.9 338.4,207.1 338.3,206.3 338.1,205.5 337.9,204.8 337.8,204 337.6,203.2 337.4,202.4 337.2,201.6 337.1,200.8 336.9,200.1 336.7,199.3 336.6,198.5 336.4,197.7 336.2,196.9 336,196.2 335.9,195.4 335.7,194.6 335.5,193.8 335.4,193 335.2,192.3 335,191.5 334.8,190.7 334.7,189.9 334.5,189.1 334.3,188.3 334.2,187.6 334,186.8 333.8,186 333.6,185.2 333.5,184.4 333.3,183.7 333.1,182.9 332.9,182.1 332.7,181.3 332.5,180.6 332.3,179.8 332.1,179 331.9,178.2 331.7,177.5 331.5,176.7 331.2,175.9 331,175.2 330.8,174.4 330.5,173.6 330.3,172.9 330.1,172.1 329.9,171.3 329.6,170.6 329.4,169.8 329.2,169 328.9,168.3 328.7,167.5 328.5,166.7 328.2,166 328,165.2 327.8,164.4 327.6,163.7 327.3,162.9 327.1,162.1 326.9,161.4 326.6,160.6 326.4,159.8 326.2,159.1 326,158.3 325.7,157.5 325.5,156.8 325.3,156 325.1,155.2 324.9,154.4 324.7,153.7 324.5,152.9 324.3,152.1 324.2,151.3 324,150.6 323.8,149.8 323.6,149 323.4,148.2 323.2,147.5 322.9,146.7 322.7,146 322.4,145.2 322,144.5 321.6,143.8 321.2,143.2 320.7,142.5 320.2,141.9 319.7,141.3 319.2,140.7 318.6,140.1 318.1,139.5 317.5,139 316.9,138.4 316.3,137.9 315.6,137.4 315,137 314.4,136.5 313.7,136 313.1,135.6 312.4,135.1 311.8,134.6 311.1,134.2 310.4,133.7 309.8,133.3 309.1,132.8 308.5,132.3 307.8,131.9 307.1,131.5 306.5,131 305.8,130.6 305.1,130.2 304.4,129.9 303.6,129.5 302.9,129.2 302.2,128.9 301.4,128.7 300.7,128.4 299.9,128.1 299.2,127.9 298.4,127.6 297.7,127.3 296.9,127.1 296.1,126.8 295.4,126.5 294.6,126.3 293.9,126 293.1,125.7 292.4,125.5 291.6,125.2 290.9,124.9 290.1,124.6 289.4,124.4 288.6,124.1 287.9,123.8 287.1,123.5 286.4,123.2 285.6,122.9 284.9,122.6 284.2,122.3 283.4,122 282.7,121.7 281.9,121.4 281.2,121.1 280.4,120.8 279.7,120.5 279,120.2 278.2,119.9 277.5,119.6 276.8,119.3 276,119 275.3,118.6 274.6,118.3 273.8,118 273.1,117.6 272.4,117.3 271.7,116.9 271,116.5 270.3,116.2 269.6,115.8 268.9,115.4 268.2,115 267.5,114.6 266.8,114.2 266.1,113.8 265.5,113.3 264.8,112.9 264.1,112.4 263.5,111.9 262.8,111.5 262.1,111.1 261.4,110.7 260.7,110.4 260,110.1 259.2,109.9 258.4,109.7 257.7,109.5 256.9,109.3 256.1,109.2 255.3,109 254.5,108.8 253.8,108.6 253.1,108.3 252.4,107.9 251.7,107.5 251.1,107 250.5,106.5 250,105.9 249.4,105.3 248.9,104.7 248.4,104.1 247.9,103.5 247.4,102.9 246.9,102.2 246.4,101.6 245.9,101 245.4,100.4 244.9,99.8 244.3,99.2 243.8,98.5 243.3,97.9 242.8,97.3 242.3,96.7 241.8,96.1 241.3,95.4 240.8,94.8 240.3,94.2 239.8,93.6 239.3,93 238.8,92.3 238.3,91.7 237.8,91.1 237.2,90.5 236.7,89.9 236.2,89.3 235.7,88.6 235.2,88 234.7,87.4 234.2,86.8 233.7,86.2 233.2,85.5 232.7,84.9 232.2,84.3 231.7,83.7 231.2,83.1 230.7,82.4 230.1,81.8 229.6,81.2 229.1,80.6 228.6,80 228.1,79.4 227.6,78.7 227.1,78.1 226.6,77.5 226.1,76.9 225.6,76.3 225.1,75.6 224.6,75 224.1,74.4 223.6,73.8 223,73.2 222.5,72.5 222,71.9 221.5,71.3 221,70.7 220.5,70.1 220,69.4 219.5,68.8 219,68.2 218.5,67.6 218,67 217.5,66.3 217,65.7 216.5,65.1 216,64.5 215.5,63.8 215,63.2 214.5,62.6 214,62 213.5,61.4 213,60.7 212.5,60.1 212,59.5 211.5,58.9 211,58.2 210.5,57.6 210,57 209.5,56.4 209,55.8 208.4,55.1 207.9,54.5 207.4,53.9 206.9,53.3 206.4,52.6 205.9,52 205.4,51.4 204.9,50.8 204.4,50.2 203.9,49.5 203.4,48.9 202.9,48.3 202.4,47.7 201.9,47 201.4,46.4 200.9,45.8 200.4,45.2 199.9,44.6 199.4,43.9 198.9,43.3 198.4,42.7 197.9,42.1 197.4,41.5 196.8,40.9 196.3,40.3 195.7,39.7 195.1,39.2 194.5,38.7 193.9,38.2 193.3,37.7 192.6,37.2 192,36.7 191.4,36.2 190.7,35.8 190.1,35.3 189.4,34.8 188.8,34.3 188.1,33.9 187.5,33.4 186.8,32.9 186.2,32.4 185.6,32 184.9,31.5 184.3,31 183.6,30.5 183,30.1 182.3,29.6 181.7,29.1 181,28.6 180.4,28.2 179.8,27.7 179.1,27.2 178.5,26.8 177.8,26.3 177.2,25.8 176.5,25.3 175.9,24.9 175.2,24.4 174.6,23.9 174,23.4 173.3,23 172.7,22.5 172,22 171.4,21.6 170.7,21.1 170,20.7 169.3,20.3 168.6,20 167.9,19.7 167.1,19.5 166.3,19.3 165.5,19.1 164.8,19 164,18.9 163.2,18.8 162.4,18.7 161.6,18.6 160.8,18.5 160,18.3 159.2,18.2 158.4,18.1 157.6,18 156.8,17.9 156,17.8 155.2,17.7 154.5,17.6 153.7,17.5 152.9,17.4 152.1,17.3 151.3,17.2 150.5,17.2 149.7,17.1 148.9,17.1 148.1,17 147.3,17 146.5,17 145.7,17 144.9,17 144.1,17 143.3,17 142.5,17 141.7,17 140.9,17 140.1,16.9 139.3,16.9 138.5,16.9 137.7,16.9 136.9,16.9 136.1,16.9 135.3,16.9 134.5,16.9 133.7,16.9 133,16.9 132.4,16.9 132,16.9Z" fill="#000"/>
<polyline points="353.5,264.8 353.6,265.2 353.6,265.5 353.6,266 353.7,266.5 353.7,267 353.8,267.6 353.9,268.2 353.9,268.8 354,269.4 354.1,270 354.1,270.6 354.2,271.2 354.2,271.8 354.3,272.4 354.4,273 354.4,273.6 354.5,274.2 354.5,274.8 354.6,275.4 354.7,276 354.7,276.5 354.8,277.1 354.9,277.7 354.9,278.3 355,278.9 355,279.5 355.1,280.1 355.2,280.7 355.2,281.3 355.3,281.9 355.4,282.5 355.4,283.1 355.5,283.7 355.6,284.3 355.6,284.9 355.7,285.5 355.8,286.1 355.8,286.7 355.9,287.3 356,287.9 356,288.5 356.1,289.1 356.1,289.7 356.2,290.3 356.3,290.9 356.3,291.5 356.4,292.1 356.5,292.7 356.5,293.3 356.6,293.8 356.7,294.4 356.7,295 356.8,295.6 356.8,296.2 356.9,296.8 357,297.4 357,298 357.1,298.6 357.1,299.2 357.2,299.8 357.2,300.4 357.3,301 357.4,301.6 357.4,302.2 357.5,302.8 357.5,303.4 357.6,304 357.6,304.6 357.7,305.2 357.7,305.8 357.8,306.4 357.8,307 357.9,307.6 358,308.2 358,308.8 358.1,309.4 358.1,310 358.2,310.6 358.2,311.2 358.3,311.8 358.3,312.4 358.4,313 358.4,313.6 358.5,314.2 358.5,314.8 358.6,315.4 358.7,316 358.7,316.5 358.8,317.1 358.8,317.7 358.9,318.3 358.9,318.9 359,319.5 359,320.1 359.1,320.7 359.1,321.3 359.2,321.9 359.3,322.5 359.3,323.1 359.4,323.7 359.4,324.3 359.5,324.9 359.5,325.5 359.6,326.1 359.6,326.7 359.7,327.3 359.7,327.9 359.8,328.5 359.8,329.1 359.9,329.7 359.9,330.3 360,330.9 360.1,331.5 360.1,332.1 360.2,332.7 360.2,333.3 360.3,333.9 360.3,334.5 360.4,335.1 360.4,335.7 360.5,336.3 360.5,336.9 360.6,337.5 360.6,338.1 360.7,338.7 360.7,339.3 360.8,339.9 360.8,340.5 360.9,341.1 360.9,341.7 361,342.2 361,342.8 361.1,343.4 361.1,344 361.2,344.6 361.3,345.2 361.3,345.8 361.4,346.4 361.4,347 361.5,347.6 361.6,348.2 361.6,348.8 361.7,349.4 361.8,350 361.8,350.6 361.9,351.2 362,351.8 362,352.4 362.1,353 362.2,353.6 362.2,354.2 362.3,354.8 362.4,355.4 362.4,356 362.5,356.6 362.5,357.2 362.6,357.8 362.7,358.4 362.7,359 362.8,359.6 362.9,360.1 362.9,360.7 363,361.3 363,361.9 363.1,362.5 363.2,363.1 363.2,363.7 363.3,364.3 363.4,364.9 363.4,365.5 363.5,366.1 363.5,366.7 363.6,367.3 363.7,367.9 363.7,368.5 363.8,369.1 363.8,369.7 363.9,370.3 364,370.9 364,371.5 364.1,372.1 364.1,372.7 364.2,373.3 364.3,373.9 364.3,374.5 364.4,375.1 364.4,375.7 364.5,376.3 364.6,376.9 364.6,377.5 364.7,378.1 364.7,378.7 364.8,379.3 364.8,379.8 364.9,380.4 365,381 365,381.6 365.1,382.2 365.1,382.8 365.2,383.4 365.3,384 365.3,384.6 365.4,385.2 365.4,385.8 365.5,386.4 365.5,387 365.6,387.6 365.7,388.2 365.7,388.8 365.8,389.4 365.8,390 365.9,390.6 365.9,391.2 366,391.8 366,392.4 366.1,393 366.1,393.6 366.2,394.2 366.2,394.8 366.3,395.4 366.3,396 366.4,396.6 366.4,397.2 366.5,397.8 366.5,398.4 366.6,399 366.6,399.6 366.7,400.2 366.7,400.8 366.8,401.4 366.8,402 366.9,402.6 366.9,403.2 367,403.8 367,404.4 367.1,404.9 367.1,405.5 367.2,406.1 367.2,406.7 367.3,407.3 367.3,407.9 367.4,408.5 367.4,409.1 367.5,409.7 367.5,410.3 367.6,410.9 367.6,411.5 367.7,412.1 367.7,412.7 367.8,413.3 367.8,413.9 367.9,414.5 367.9,415.1 368,415.7 368,416.3 368,416.9 368.1,417.5 368.1,418.1 368.2,418.7 368.2,419.3 368.3,419.9 368.3,420.5 368.4,421.1 368.4,421.7 368.5,422.3 368.5,422.9 368.6,423.5 368.6,424.1 368.7,424.7 368.7,425.3 368.8,425.9 368.8,426.5 368.9,427.1 368.9,427.7 369,428.3 369,428.9 369.1,429.5 369.1,430.1 369.2,430.7 369.2,431.3 369.3,431.9 369.3,432.5 369.4,433.1 369.4,433.7 369.5,434.3 369.5,434.9 369.6,435.4 369.6,436 369.7,436.6 369.7,437.2 369.8,437.8 369.8,438.4 369.9,439 369.9,439.6 370,440.2 370,440.8 370.1,441.4 370.1,442 370.2,442.6 370.2,443.2 370.3,443.8 370.3,444.4 370.4,445 370.4,445.6 370.5,446.2 370.5,446.8 370.6,447.4 370.6,448 370.7,448.6 370.7,449.2 370.8,449.8 370.8,450.4 370.9,451 370.9,451.6 371,452.2 371,452.8 371.1,453.4 371.1,454 371.2,454.6 371.2,455.2 371.3,455.8 371.3,456.4 371.4,457 371.4,457.6 371.5,458.2 371.5,458.8 371.6,459.4 371.6,460 371.7,460.6 371.7,461.2 371.8,461.8 371.8,462.4 371.9,463 371.9,463.5 372,464.1 372.1,464.7 372.1,465.3 372.2,465.9 372.2,466.5 372.3,467.1 372.3,467.7 372.4,468.3 372.4,468.9 372.5,469.5 372.5,470.1 372.6,470.7 372.6,471.3 372.7,471.9 372.7,472.5 372.8,473.1 372.8,473.7 372.9,474.3 372.9,474.9 373,475.5 373,476.1 373.1,476.7 373.2,477.3 373.2,477.9 373.3,478.5 373.3,479.1 373.4,479.7 373.4,480.3 373.5,480.9 373.5,481.5 373.6,482.1 373.6,482.7 373.7,483.3 373.8,483.9 373.8,484.5 373.9,485.1 374,485.7 374,486.3 374.1,486.8 374.2,487.4 374.2,488 374.3,488.6 374.4,489.2 374.4,489.8 374.5,490.4 374.6,491 374.6,491.6 374.7,492.2 374.8,492.8 374.8,493.4 374.9,494 375,494.6 375,495.2 375.1,495.8 375.2,496.4 375.2,497 375.3,497.6 375.4,498.2 375.4,498.8 375.5,499.4 375.5,500 375.6,500.6 375.7,501.2 375.7,501.8 375.8,502.4 375.8,503 375.9,503.6 375.9,504.1 376,504.7 376.1,505.3 376.1,505.9 376.2,506.5 376.2,507.1 376.3,507.7 376.3,508.3 376.4,508.9 376.5,509.5 376.5,510.1 376.6,510.7 376.6,511.3 376.7,511.9 376.7,512.5 376.8,513.1 376.9,513.7 376.9,514.3 377,514.9 377,515.5 377.1,516.1 377.2,516.7 377.2,517.3 377.3,517.9 377.3,518.5 377.4,519.1 377.5,519.7 377.5,520.3 377.6,520.9 377.7,521.5 377.7,522.1 377.8,522.7 377.9,523.3 377.9,523.8 378,524.4 378.1,525 378.1,525.6 378.2,526.2 378.3,526.8 378.3,527.4 378.4,528 378.5,528.6 378.5,529.2 378.6,529.8 378.7,530.4 378.7,531 378.8,531.6 378.9,532.2 378.9,532.8 379,533.4 379,534 379.1,534.6 379.2,535.2 379.2,535.8 379.3,536.4 379.3,537 379.4,537.6 379.5,538.2 379.5,538.8 379.6,539.4 379.6,540 379.7,540.6 379.8,541.2 379.8,541.7 379.9,542.3 379.9,542.9 380,543.5 380.1,544.1 380.1,544.7 380.2,545.3 380.3,545.9 380.3,546.5 380.4,547.1 380.4,547.7 380.5,548.3 380.6,548.9 380.7,549.5 380.7,550.1 380.8,550.7 380.9,551.3 381,551.9 381.1,552.5 381.1,553.1 381.2,553.7 381.3,554.3 381.4,554.9 381.5,555.4 381.6,556 381.7,556.6 381.8,557.2 381.8,557.8 381.9,558.4 382,559 382.1,559.6 382.2,560.2 382.3,560.8 382.4,561.4 382.5,562 382.5,562.6 382.6,563.2 382.7,563.8 382.8,564.3 382.9,564.9 383,565.5 383.1,566.1 383.2,566.7 383.3,567.3 383.4,567.9 383.5,568.5 383.5,569.1 383.6,569.7 383.7,570.3 383.8,570.9 383.9,571.5 384,572.1 384.1,572.6 384.2,573.2 384.3,573.8 384.4,574.4 384.5,575 384.6,575.6 384.7,576.2 384.8,576.8 384.9,577.4 385,578 385.1,578.6 385.2,579.2 385.3,579.7 385.4,580.3 385.5,580.9 385.7,581.5 385.8,582.1 385.9,582.7 386,583.3 386.1,583.9 386.3,584.4 386.4,585 386.5,585.6 386.7,586.2 386.8,586.8 387,587.4 387.1,588 387.2,588.5 387.4,589.1 387.5,589.7 387.7,590.3 387.9,590.9 388,591.4 388.2,592 388.3,592.6 388.5,593.2 388.7,593.7 388.9,594.3 389,594.9 389.2,595.5 389.4,596 389.6,596.6 389.8,597.2 390,597.7 390.2,598.3 390.4,598.9 390.6,599.4 390.8,600 391.1,600.5 391.3,601.1 391.6,601.6 391.8,602.1 392.1,602.6 392.5,603.1 392.8,603.6 393.2,604.1 393.5,604.6 393.9,605 394.4,605.4 394.8,605.8 395.3,606.2 395.8,606.5 396.3,606.8 396.8,607.1 397.3,607.3 397.9,607.6 398.4,607.8 399,607.9 399.6,608.1 400.1,608.2 400.7,608.3 401.3,608.4 401.9,608.5 402.5,608.5 403.1,608.5 403.7,608.6 404.3,608.6 404.9,608.6 405.5,608.6 406.1,608.6 406.7,608.5 407.3,608.5 407.9,608.5 408.5,608.5 409.1,608.4 409.7,608.4 410.3,608.4 410.9,608.4 411.5,608.3 412.1,608.3 412.7,608.3 413.3,608.3 413.9,608.3 414.5,608.3 415.1,608.3 415.7,608.3 416.3,608.3 416.9,608.3 417.5,608.3 418.1,608.3 418.7,608.3 419.3,608.3 419.9,608.3 420.5,608.4 421.1,608.4 421.7,608.4 422.3,608.4 422.9,608.4 423.5,608.4 424.1,608.5 424.7,608.5 425.3,608.5 425.9,608.5 426.5,608.5 427.1,608.5 427.7,608.5 428.3,608.6 428.9,608.6 429.5,608.6 430.1,608.6 430.7,608.6 431.3,608.6 431.9,608.6 432.5,608.6 433.1,608.7 433.7,608.7 434.3,608.7 434.9,608.7 435.5,608.7 436.1,608.7 436.7,608.7 437.3,608.7 437.9,608.7 438.5,608.8 439.1,608.8 439.7,608.8 440.3,608.8 440.9,608.8 441.5,608.8 442.1,608.8 442.7,608.8 443.3,608.9 443.9,608.9 444.5,608.9 445.1,608.9 445.7,608.9 446.3,608.9 446.9,608.9 447.5,608.9 448.1,608.9 448.7,609 449.3,609 449.9,609 450.5,609 451.1,609 451.7,609 452.3,609 452.9,609 453.5,609 454.1,609.1 454.7,609.1 455.3,609.1 455.9,609.1 456.5,609.1 457.1,609.1 457.7,609.1 458.3,609.1 458.9,609.1 459.5,609.2 460.1,609.2 460.7,609.2 461.3,609.2 461.9,609.2 462.5,609.2 463.1,609.2 463.7,609.2 464.3,609.2 464.9,609.3 465.5,609.3 466.1,609.3 466.7,609.3 467.3,609.3 467.9,609.3 468.5,609.3 469.1,609.3 469.7,609.4 470.3,609.4 470.9,609.4 471.5,609.4 472.1,609.4 472.7,609.4 473.3,609.4 473.9,609.4 474.5,609.4 475.1,609.5 475.7,609.5 476.3,609.5 476.9,609.5 477.5,609.5 478.1,609.5 478.7,609.5 479.3,609.5 479.9,609.5 480.5,609.6 481.1,609.6 481.7,609.6 482.3,609.6 482.9,609.6 483.5,609.6 484.1,609.6 484.7,609.6 485.3,609.6 485.9,609.7 486.5,609.7 487.1,609.7 487.7,609.7 488.3,609.7 488.9,609.7 489.5,609.7 490.1,609.7 490.7,609.7 491.3,609.8 491.9,609.8 492.5,609.8 493.1,609.8 493.7,609.8 494.3,609.8 494.9,609.8 495.5,609.8 496.1,609.9 496.7,609.9 497.3,609.9 497.9,609.9 498.5,609.9 499.1,609.9 499.7,609.9 500.3,609.9 500.9,609.9 501.5,610 502.1,610 502.7,610 503.3,610 503.9,610 504.5,610 505.1,610 505.7,610 506.3,610 506.9,610 507.5,610 508.1,610 508.7,610.1 509.3,610.1 509.9,610.1 510.5,610.1 511.1,610.1 511.7,610.1 512.3,610.1 512.9,610.1 513.5,610.1 514.1,610.1 514.7,610.1 515.3,610.1 515.9,610.1 516.5,610.1 517.1,610.1 517.7,610.2 518.3,610.2 518.9,610.2 519.5,610.2 520.1,610.2 520.7,610.2 521.3,610.2 521.9,610.2 522.5,610.2 523.1,610.2 523.7,610.2 524.3,610.2 524.9,610.2 525.5,610.2 526.1,610.3 526.7,610.3 527.3,610.3 527.9,610.3 528.5,610.3 529.1,610.3 529.7,610.3 530.3,610.3 530.9,610.3 531.5,610.3 532.1,610.3 532.7,610.3 533.3,610.3 533.9,610.3 534.5,610.3 535.1,610.4 535.7,610.4 536.3,610.4 536.9,610.4 537.5,610.4 538.1,610.4 538.7,610.4 539.3,610.4 539.9,610.4 540.5,610.4 541.1,610.4 541.7,610.4 542.3,610.4 542.9,610.4 543.5,610.5 544.1,610.5 544.7,610.5 545.3,610.5 545.9,610.5 546.5,610.5 547.1,610.5 547.7,610.5 548.3,610.5 548.9,610.5 549.5,610.5 550.1,610.5 550.7,610.5 551.3,610.5 551.9,610.5 552.5,610.6 553.1,610.6 553.7,610.6 554.3,610.6 554.9,610.6 555.5,610.6 556.1,610.6 556.7,610.6 557.3,610.6 557.9,610.6 558.5,610.6 559.1,610.6 559.7,610.6 560.3,610.6 560.9,610.6 561.5,610.7 562.1,610.7 562.7,610.7 563.3,610.7 563.9,610.7 564.5,610.7 565.1,610.7 565.7,610.7 566.3,610.7 566.9,610.7 567.5,610.7 568.1,610.7 568.7,610.7 569.3,610.7 569.9,610.8 570.5,610.8 571.1,610.8 571.7,610.8 572.3,610.8 572.9,610.8 573.5,610.8 574.1,610.8 574.7,610.8 575.3,610.8 575.9,610.8 576.5,610.8 577.1,610.8 577.7,610.8 578.3,610.8 578.9,610.9 579.5,610.9 580.1,610.9 580.7,610.9 581.3,610.9 581.9,610.9 582.5,610.9 583.1,610.9 583.7,610.9 584.3,610.9 584.9,610.9 585.5,610.9 586.1,610.9 586.7,610.9 587.3,610.9 587.9,611 588.5,611 589.1,611 589.7,611 590.3,611 590.9,611 591.5,611 592.1,611 592.7,611 593.3,611 593.9,611 594.5,611 595.1,611 595.7,611 596.3,611.1 596.9,611.1 597.5,611.1 598.1,611.1 598.7,611.1 599.3,611.1 599.9,611.1 600.5,611.1 601.1,611.1 601.7,611.1 602.3,611.1 602.9,611.1 603.5,611.1 604.1,611.1 604.7,611.1 605.3,611.2 605.9,611.2 606.5,611.2 607.1,611.2 607.7,611.2 608.3,611.2 608.9,611.2 609.5,611.2 610.1,611.2 610.7,611.2 611.3,611.2 611.9,611.2 612.5,611.2 613.1,611.2 613.7,611.3 614.3,611.3 614.9,611.3 615.5,611.3 616.1,611.3 616.7,611.3 617.3,611.3 617.9,611.3 618.5,611.3 619.1,611.3 619.7,611.3 620.3,611.3 620.9,611.3 621.5,611.3 622.1,611.3 622.7,611.3 623.3,611.3 623.9,611.3 624.5,611.3 625.1,611.3 625.7,611.3 626.3,611.3 626.9,611.3 627.5,611.3 628.1,611.3 628.7,611.4 629.3,611.4 629.9,611.4 630.5,611.4 631.1,611.4 631.7,611.4 632.3,611.4 632.9,611.4 633.5,611.4 634.1,611.4 634.7,611.4 635.3,611.4 635.9,611.4 636.5,611.4 637.1,611.4 637.7,611.4 638.3,611.4 638.9,611.4 639.5,611.4 640.1,611.4 640.7,611.4 641.3,611.4 641.9,611.4 642.5,611.4 643.1,611.4 643.7,611.4 644.3,611.4 644.9,611.4 645.5,611.4 646.1,611.4 646.7,611.4 647.3,611.4 647.9,611.4 648.5,611.5 649.1,611.5 649.7,611.5 650.3,611.5 650.9,611.5 651.5,611.5 652.1,611.5 652.7,611.5 653.3,611.5 653.9,611.5 654.5,611.5 655.1,611.5 655.7,611.5 656.3,611.5 656.9,611.5 657.5,611.5 658.1,611.5 658.7,611.5 659.3,611.5 659.9,611.5 660.5,611.5 661.1,611.5 661.7,611.5 662.3,611.5 662.9,611.5 663.5,611.5 664.1,611.5 664.7,611.5 665.3,611.5 665.9,611.5 666.5,611.5 667.1,611.5 667.7,611.5 668.3,611.5 668.9,611.6 669.5,611.6 670.1,611.6 670.7,611.6 671.3,611.6 671.9,611.6 672.5,611.6 673.1,611.6 673.7,611.6 674.3,611.6 674.9,611.6 675.5,611.6 676.1,611.6 676.7,611.6 677.3,611.6 677.9,611.6 678.5,611.6 679.1,611.6 679.7,611.6 680.3,611.6 680.9,611.6 681.5,611.6 682.1,611.6 682.7,611.6 683.3,611.6 683.9,611.6 684.5,611.6 685.1,611.6 685.7,611.6 686.3,611.6 686.9,611.6 687.5,611.6 688.1,611.6 688.7,611.6 689.3,611.7 689.9,611.7 690.5,611.7 691.1,611.7 691.7,611.7 692.3,611.7 692.9,611.7 693.5,611.7 694.1,611.7 694.7,611.7 695.3,611.7 695.9,611.7 696.5,611.7 697.1,611.7 697.7,611.7 698.3,611.7 698.9,611.7 699.5,611.7 700.1,611.7 700.7,611.7 701.3,611.7 701.9,611.7 702.5,611.7 703.1,611.7 703.7,611.7 704.3,611.7 704.9,611.7 705.5,611.7 706.1,611.7 706.7,611.7 707.3,611.7 707.9,611.7 708.5,611.7 709.1,611.7 709.7,611.8 710.3,611.8 710.9,611.8 711.5,611.8 712.1,611.8 712.7,611.8 713.3,611.8 713.9,611.8 714.5,611.8 715.1,611.8 715.7,611.8 716.3,611.8 716.9,611.8 717.5,611.8 718.1,611.8 718.7,611.8 719.3,611.8 719.9,611.8 720.5,611.8 721.1,611.8 721.7,611.8 722.3,611.8 722.9,611.8 723.5,611.8 724.1,611.8 724.7,611.8 725.3,611.8 725.9,611.8 726.5,611.8 727.1,611.8 727.7,611.8 728.3,611.8 728.9,611.8 729.5,611.8 730.1,611.9 730.7,611.9 731.3,611.9 731.9,611.9 732.5,611.9 733.1,611.9 733.7,611.9 734.3,611.9 734.9,611.9 735.5,611.9 736.1,611.9 736.7,611.9 737.3,611.9 737.9,611.9 738.5,611.9 739.1,611.9 739.7,611.9 740.3,611.9 740.9,611.9 741.5,611.9 742.1,611.9 742.7,611.9 743.3,611.9 743.9,611.9 744.5,611.9 745.1,611.9 745.7,611.9 746.3,611.9 746.9,611.9 747.5,611.9 748.1,611.9 748.7,611.9 749.3,611.9 749.9,612 750.5,612 751.1,612 751.7,612 752.3,612 752.9,612 753.5,612 754.1,612 754.7,612 755.3,612 755.9,612 756.5,612 757.1,612 757.7,612 758.3,612 758.9,612 759.5,612 760.1,612 760.7,612 761.3,612 761.9,612 762.5,612 763.1,612 763.7,612 764.3,612 764.9,612 765.5,612 766.1,612 766.7,612 767.3,612 767.9,612 768.5,612 769.1,612 769.7,612 770.3,612 770.9,612 771.5,612 772.1,612 772.7,612 773.3,612 773.9,612 774.5,612 775.1,612 775.7,612 776.3,612 776.9,612 777.5,612 778.1,612 778.7,612.1 779.3,612.1 779.9,612.1 780.5,612.1 781.1,612.1 781.7,612.1 782.3,612.1 782.9,612.1 783.5,612.1 784.1,612.1 784.7,612.1 785.3,612.1 785.9,612.1 786.5,612.1 787.1,612.1 787.7,612.1 788.3,612.1 788.9,612.1 789.5,612.1 790.1,612.1 790.7,612.1 791.3,612.1 791.9,612.1 792.5,612.1 793.1,612.1 793.7,612.1 794.3,612.1 794.9,612.1 795.5,612.1 796.1,612.1 796.7,612.1 797.3,612.1 797.9,612.1 798.5,612.1 799.1,612.1 799.7,612.1 800.3,612.1 800.9,612.1 801.5,612.1 802.1,612.1 802.7,612.1 803.3,612.1 803.9,612.1 804.5,612.1 805.1,612.1 805.7,612.1 806.3,612.1 806.9,612.1 807.5,612.1 808.1,612.1 808.7,612.1 809.3,612.1 809.9,612.1 810.5,612.1 811.1,612.1 811.7,612.1 812.3,612.1 812.9,612.1 813.5,612.1 814.1,612.1 814.7,612.1 815.3,612.2 815.9,612.2 816.5,612.2 817.1,612.2 817.7,612.2 818.3,612.2 818.9,612.2 819.5,612.2 820.1,612.2 820.7,612.2 821.3,612.2 821.9,612.2 822.5,612.2 823.1,612.2 823.7,612.2 824.3,612.2 824.9,612.2 825.5,612.2 826.1,612.2 826.7,612.2 827.3,612.2 827.9,612.2 828.5,612.2 829.1,612.2 829.7,612.2 830.3,612.2 830.9,612.2 831.5,612.2 832.1,612.2 832.7,612.2 833.3,612.2 833.9,612.2 834.5,612.2 835.1,612.2 835.7,612.2 836.3,612.2 836.9,612.2 837.5,612.2 838.1,612.2 838.7,612.2 839.3,612.2 839.9,612.2 840.5,612.2 841.1,612.2 841.7,612.2 842.3,612.2 842.9,612.2 843.5,612.2 844.1,612.2 844.7,612.2 845.3,612.2 845.9,612.2 846.5,612.2 847.1,612.2 847.7,612.2 848.3,612.2 848.9,612.2 849.5,612.2 850.1,612.2 850.7,612.2 851.3,612.2 851.9,612.2 852.5,612.3 853.1,612.3 853.7,612.3 854.3,612.3 854.9,612.3 855.5,612.3 856.1,612.3 856.7,612.3 857.3,612.3 857.9,612.3 858.5,612.3 859.1,612.3 859.7,612.3 860.3,612.3 860.9,612.3 861.5,612.3 862.1,612.3 862.7,612.3 863.3,612.3 863.9,612.3 864.5,612.3 865.1,612.3 865.7,612.3 866.3,612.3 866.9,612.3 867.5,612.3 868.1,612.3 868.7,612.3 869.3,612.3 869.9,612.3 870.5,612.3 871.1,612.3 871.7,612.3 872.3,612.3 872.9,612.3 873.5,612.3 874.1,612.3 874.7,612.3 875.3,612.3 875.9,612.3 876.5,612.3 877.1,612.3 877.7,612.3 878.3,612.3 878.9,612.3 879.5,612.3 880.1,612.3 880.7,612.3 881.3,612.3 881.9,612.3 882.5,612.3 883.1,612.3 883.7,612.3 884.3,612.3 884.9,612.3 885.5,612.3 886.1,612.3 886.7,612.3 887.3,612.3 887.9,612.3 888.5,612.3 889.1,612.4 889.7,612.4 890.3,612.4 890.9,612.4 891.5,612.4 892.1,612.4 892.7,612.4 893.3,612.4 893.9,612.4 894.5,612.4 895.1,612.4 895.7,612.4 896.3,612.4 896.9,612.4 897.5,612.4 898.1,612.4 898.7,612.4 899.3,612.4 899.9,612.4 900.5,612.4 901.1,612.4 901.7,612.4 902.3,612.4 902.9,612.4 903.5,612.4 904.1,612.4 904.7,612.4 905.3,612.4 905.9,612.4 906.5,612.4 907.1,612.4 907.7,612.4 908.3,612.4 908.9,612.4 909.5,612.4 910.1,612.4 910.7,612.4 911.3,612.4 911.9,612.4 912.5,612.4 913.1,612.4 913.7,612.4 914.3,612.4 914.9,612.4 915.5,612.4 916.1,612.4 916.7,612.4 917.3,612.4 917.9,612.4 918.5,612.4 919.1,612.4 919.7,612.4 920.3,612.4 920.9,612.4 921.5,612.4 922.1,612.4 922.7,612.4 923.3,612.4 923.9,612.4 924.5,612.4 925.1,612.4 925.7,612.5 926.3,612.5 926.9,612.5 927.5,612.5 928.1,612.5 928.7,612.5 929.3,612.5 929.9,612.5 930.5,612.5 931.1,612.5 931.7,612.5 932.3,612.5 932.9,612.5 933.5,612.5 934.1,612.5 934.7,612.5 935.3,612.5 935.9,612.5 936.5,612.5 937.1,612.5 937.7,612.5 938.3,612.5 938.9,612.5 939.5,612.5 940.1,612.5 940.6,612.5 941.1,612.5 941.6,612.5 942,612.5 942.3,612.5 942.6,612.5" fill="none" stroke="#000" stroke-width="12.4" stroke-linejoin="round"/>
<path d="M130.3,16.9L136.6,4.4L142.9,16.9Z" fill="#000"/>
<path d="M937.6,619.5L943.9,606.8L950.2,619.5Z" fill="#000"/>
<polyline points="136.6,12 137.2,12 137.8,12.1 138.4,12.1 139,12.1 139.6,12.1 140.2,12.2 140.8,12.2 141.4,12.2 142,12.3 142.6,12.3 143.2,12.4 143.8,12.4 144.4,12.5 145,12.5 145.6,12.6 146.2,12.7 146.8,12.7 147.4,12.8 147.9,12.9 148.5,13 149.1,13.1 149.7,13.2 150.3,13.3 150.9,13.4 151.5,13.5 152.1,13.7 152.7,13.8 153.2,13.9 153.8,14.1 154.4,14.2 155,14.4 155.6,14.5 156.1,14.7 156.7,14.8 157.3,15 157.9,15.2 158.4,15.4 159,15.6 159.6,15.8 160.1,15.9 160.7,16.2 161.3,16.4 161.8,16.6 162.4,16.8 162.9,17 163.5,17.3 164,17.5 164.6,17.7 165.1,18 165.7,18.2 166.2,18.5 166.8,18.7 167.3,19 167.8,19.3 168.4,19.5 168.9,19.8 169.4,20.1 170,20.4 170.5,20.6 171,20.9 171.5,21.2 172.1,21.5 172.6,21.8 173.1,22.1 173.6,22.4 174.2,22.7 174.7,23 175.2,23.3 175.7,23.6 176.2,23.9 176.8,24.2 177.3,24.5 177.8,24.8 178.3,25.1 178.8,25.4 179.4,25.7 179.9,26 180.4,26.3 180.9,26.6 181.4,26.9 182,27.2 182.5,27.5 183,27.8 183.5,28.1 184,28.5 184.5,28.8 185,29.1 185.4,29.5 185.9,29.9 186.4,30.2 186.8,30.6 187.3,31 187.7,31.4 188.2,31.8 188.6,32.2 189.1,32.6 189.5,33 189.9,33.4 190.3,33.9 190.8,34.3 191.2,34.7 191.6,35.1 192,35.5 192.5,36 192.9,36.4 193.3,36.8 193.7,37.3 194.1,37.7 194.5,38.2 194.9,38.6 195.3,39 195.8,39.5 196.2,39.9 196.6,40.3 197,40.8 197.4,41.2 197.8,41.7 198.2,42.1 198.6,42.6 199,43 199.4,43.4 199.8,43.9 200.2,44.3 200.6,44.8 201,45.2 201.4,45.7 201.8,46.1 202.2,46.6 202.6,47 203,47.5 203.4,47.9 203.8,48.4 204.2,48.8 204.6,49.3 205,49.7 205.4,50.2 205.8,50.6 206.2,51.1 206.6,51.5 207,52 207.4,52.4 207.7,52.9 208.1,53.4 208.5,53.8 208.9,54.3 209.3,54.7 209.6,55.2 210,55.7 210.4,56.1 210.8,56.6 211.1,57.1 211.5,57.6 211.9,58 212.3,58.5 212.6,59 213,59.4 213.4,59.9 213.7,60.4 214.1,60.9 214.5,61.3 214.8,61.8 215.2,62.3 215.5,62.8 215.9,63.3 216.3,63.7 216.6,64.2 217,64.7 217.3,65.2 217.7,65.7 218.1,66.1 218.4,66.6 218.8,67.1 219.1,67.6 219.5,68.1 219.8,68.6 220.2,69.1 220.5,69.6 220.9,70 221.2,70.5 221.5,71 221.9,71.5 222.2,72 222.6,72.5 222.9,73 223.2,73.5 223.6,74 223.9,74.5 224.3,75 224.6,75.5 225,75.9 225.3,76.4 225.7,76.9 226.1,77.4 226.4,77.9 226.8,78.3 227.2,78.8 227.5,79.3 227.9,79.7 228.3,80.2 228.6,80.7 229,81.2 229.4,81.6 229.8,82.1 230.1,82.6 230.5,83 230.9,83.5 231.3,84 231.6,84.4 232,84.9 232.4,85.4 232.8,85.9 233.1,86.3 233.5,86.8 233.9,87.3 234.2,87.8 234.6,88.2 234.9,88.7 235.3,89.2 235.7,89.7 236,90.2 236.4,90.6 236.7,91.1 237.1,91.6 237.5,92.1 237.8,92.5 238.2,93 238.6,93.5 238.9,94 239.3,94.4 239.7,94.9 240.1,95.4 240.4,95.8 240.8,96.3 241.2,96.8 241.6,97.2 242,97.7 242.4,98.1 242.8,98.6 243.1,99 243.5,99.5 243.9,99.9 244.3,100.4 244.7,100.9 245.1,101.3 245.5,101.8 245.9,102.2 246.3,102.7 246.7,103.1 247.1,103.5 247.5,104 247.9,104.4 248.3,104.8 248.8,105.3 249.2,105.7 249.6,106.1 250,106.5 250.5,106.9 250.9,107.4 251.3,107.8 251.8,108.2 252.2,108.6 252.7,109 253.1,109.4 253.5,109.8 254,110.2 254.4,110.6 254.9,111 255.3,111.5 255.7,111.9 256.1,112.3 256.6,112.7 257,113.1 257.4,113.6 257.8,114 258.3,114.4 258.7,114.9 259.1,115.3 259.5,115.7 259.9,116.2 260.3,116.6 260.7,117 261.1,117.5 261.6,117.9 262,118.3 262.4,118.7 262.8,119.1 263.3,119.6 263.7,119.9 264.2,120.3 264.6,120.7 265.1,121.1 265.6,121.5 266.1,121.8 266.5,122.2 267,122.5 267.5,122.9 268,123.2 268.5,123.6 269,123.9 269.5,124.2 270,124.6 270.5,124.9 271,125.2 271.5,125.5 272,125.8 272.5,126.2 273,126.5 273.5,126.8 274.1,127.1 274.6,127.4 275.1,127.7 275.6,128 276.1,128.3 276.6,128.6 277.2,128.9 277.7,129.2 278.2,129.5 278.7,129.8 279.2,130.1 279.7,130.4 280.3,130.7 280.8,131 281.3,131.4 281.8,131.7 282.3,132 282.9,132.3 283.4,132.6 283.9,132.9 284.4,133.2 284.9,133.4 285.5,133.7 286,134 286.5,134.3 287.1,134.6 287.6,134.8 288.1,135.1 288.7,135.3 289.2,135.6 289.8,135.8 290.3,136.1 290.9,136.3 291.4,136.5 292,136.7 292.5,137 293.1,137.2 293.7,137.4 294.2,137.6 294.8,137.8 295.3,138 295.9,138.3 296.5,138.5 297,138.7 297.6,138.9 298.1,139.1 298.7,139.3 299.3,139.5 299.8,139.8 300.4,140 300.9,140.2 301.5,140.4 302.1,140.6 302.6,140.8 303.2,141 303.8,141.2 304.3,141.4 304.9,141.7 305.4,141.9 306,142.1 306.6,142.3 307.1,142.5 307.7,142.7 308.3,142.9 308.8,143.1 309.4,143.3 309.9,143.5 310.5,143.7 311.1,143.9 311.6,144.1 312.2,144.3 312.8,144.5 313.3,144.8 313.9,145 314.4,145.2 315,145.4 315.5,145.7 316,146 316.6,146.3 317.1,146.6 317.6,146.9 318.1,147.2 318.6,147.5 319.1,147.9 319.6,148.2 320.1,148.5 320.6,148.8 321.1,149.2 321.6,149.5 322.1,149.9 322.5,150.3 322.9,150.7 323.3,151.2 323.7,151.6 324.1,152 324.5,152.5 324.9,153 325.3,153.4 325.6,153.9 325.9,154.5 326.1,155 326.4,155.5 326.7,156.1 326.9,156.6 327.2,157.2 327.4,157.7 327.7,158.3 327.9,158.8 328.1,159.4 328.4,159.9 328.6,160.5 328.9,161 329.1,161.5 329.4,162.1 329.6,162.6 329.9,163.2 330.2,163.7 330.5,164.2 330.7,164.8 331,165.3 331.3,165.8 331.5,166.4 331.7,166.9 332,167.5 332.2,168.1 332.4,168.6 332.6,169.2 332.8,169.7 333,170.3 333.2,170.9 333.4,171.4 333.6,172 333.8,172.6 334,173.1 334.2,173.7 334.4,174.3 334.6,174.8 334.8,175.4 335,175.9 335.2,176.5 335.4,177.1 335.6,177.6 335.8,178.2 336,178.8 336.2,179.3 336.4,179.9 336.6,180.5 336.8,181 337,181.6 337.2,182.2 337.4,182.7 337.6,183.3 337.8,183.9 338,184.4 338.2,185 338.4,185.6 338.6,186.2 338.7,186.7 338.9,187.3 339.1,187.9 339.2,188.5 339.4,189 339.5,189.6 339.7,190.2 339.8,190.8 340,191.4 340.1,191.9 340.3,192.5 340.4,193.1 340.6,193.7 340.7,194.3 340.8,194.9 341,195.4 341.1,196 341.3,196.6 341.4,197.2 341.6,197.8 341.7,198.3 341.8,198.9 342,199.5 342.1,200.1 342.3,200.7 342.4,201.3 342.5,201.8 342.7,202.4 342.8,203 342.9,203.6 343,204.2 343.2,204.8 343.3,205.4 343.4,206 343.5,206.5 343.6,207.1 343.8,207.7 343.9,208.3 344,208.9 344.1,209.5 344.2,210.1 344.3,210.7 344.4,211.3 344.5,211.8 344.7,212.4 344.8,213 344.9,213.6 345,214.2 345.1,214.8 345.2,215.4 345.3,216 345.4,216.6 345.5,217.2 345.7,217.7 345.8,218.3 345.9,218.9 346,219.5 346.1,220.1 346.2,220.7 346.3,221.3 346.4,221.9 346.5,222.5 346.6,223.1 346.7,223.7 346.8,224.2 346.9,224.8 347,225.4 347,226 347.1,226.6 347.2,227.2 347.3,227.8 347.4,228.4 347.5,229 347.6,229.6 347.7,230.2 347.8,230.8 347.9,231.4 348,232 348.1,232.5 348.2,233.1 348.3,233.7 348.4,234.3 348.5,234.9 348.6,235.5 348.7,236.1 348.8,236.7 348.9,237.3 349.1,237.9 349.2,238.4 349.3,239 349.4,239.6 349.5,240.2 349.7,240.8 349.8,241.4 349.9,242 350,242.6 350.2,243.1 350.3,243.7 350.4,244.3 350.5,244.9 350.6,245.5 350.7,246.1 350.8,246.7 350.9,247.3 351,247.9 351.1,248.5 351.2,249 351.3,249.6 351.4,250.2 351.4,250.8 351.5,251.4 351.6,252 351.7,252.6 351.7,253.2 351.8,253.8 351.9,254.4 352,255 352.1,255.6 352.1,256.2 352.2,256.8 352.3,257.4 352.4,258 352.4,258.6 352.5,259.2 352.6,259.8 352.7,260.3 352.7,260.9 352.8,261.5 352.9,262.1 353,262.7 353,263.3 353.1,263.9 353.2,264.5 353.3,265.1 353.3,265.7 353.4,266.3 353.5,266.9 353.5,267.5 353.6,268.1 353.7,268.7 353.8,269.3 353.8,269.9 353.9,270.5 354,271.1 354.1,271.7 354.1,272.3 354.2,272.9 354.3,273.4 354.4,274 354.4,274.6 354.5,275.2 354.6,275.8 354.6,276.4 354.7,277 354.8,277.6 354.9,278.2 354.9,278.8 355,279.4 355.1,280 355.2,280.6 355.2,281.2 355.3,281.8 355.4,282.4 355.5,283 355.5,283.6 355.6,284.2 355.7,284.8 355.8,285.4 355.9,285.9 355.9,286.5 356,287.1 356.1,287.7 356.2,288.3 356.2,288.9 356.3,289.5 356.4,290.1 356.5,290.7 356.6,291.3 356.6,291.9 356.7,292.5 356.8,293.1 356.9,293.7 356.9,294.3 357,294.9 357.1,295.5 357.1,296.1 357.2,296.7 357.3,297.3 357.4,297.9 357.4,298.5 357.5,299 357.6,299.6 357.6,300.2 357.7,300.8 357.8,301.4 357.8,302 357.9,302.6 358,303.2 358,303.8 358.1,304.4 358.2,305 358.2,305.6 358.3,306.2 358.4,306.8 358.4,307.4 358.5,308 358.6,308.6 358.6,309.2 358.7,309.8 358.8,310.4 358.8,311 358.9,311.6 359,312.2 359,312.8 359.1,313.4 359.2,314 359.2,314.6 359.3,315.1 359.4,315.7 359.4,316.3 359.5,316.9 359.5,317.5 359.6,318.1 359.7,318.7 359.7,319.3 359.8,319.9 359.9,320.5 359.9,321.1 360,321.7 360.1,322.3 360.1,322.9 360.2,323.5 360.3,324.1 360.3,324.7 360.4,325.3 360.5,325.9 360.5,326.5 360.6,327.1 360.7,327.7 360.7,328.3 360.8,328.9 360.9,329.5 360.9,330.1 361,330.7 361.1,331.3 361.1,331.8 361.2,332.4 361.2,333 361.3,333.6 361.4,334.2 361.4,334.8 361.5,335.4 361.6,336 361.6,336.6 361.7,337.2 361.7,337.8 361.8,338.4 361.9,339 361.9,339.6 362,340.2 362.1,340.8 362.1,341.4 362.2,342 362.2,342.6 362.3,343.2 362.4,343.8 362.4,344.4 362.5,345 362.6,345.6 362.6,346.2 362.7,346.8 362.8,347.4 362.8,348 362.9,348.6 363,349.1 363,349.7 363.1,350.3 363.2,350.9 363.2,351.5 363.3,352.1 363.4,352.7 363.4,353.3 363.5,353.9 363.6,354.5 363.7,355.1 363.7,355.7 363.8,356.3 363.9,356.9 363.9,357.5 364,358.1 364,358.7 364.1,359.3 364.2,359.9 364.2,360.5 364.3,361.1 364.4,361.7 364.4,362.3 364.5,362.9 364.6,363.5 364.6,364.1 364.7,364.7 364.7,365.3 364.8,365.8 364.9,366.4 364.9,367 365,367.6 365.1,368.2 365.1,368.8 365.2,369.4 365.2,370 365.3,370.6 365.4,371.2 365.4,371.8 365.5,372.4 365.6,373 365.6,373.6 365.7,374.2 365.7,374.8 365.8,375.4 365.9,376 365.9,376.6 366,377.2 366,377.8 366.1,378.4 366.2,379 366.2,379.6 366.3,380.2 366.3,380.8 366.4,381.4 366.5,382 366.5,382.6 366.6,383.2 366.6,383.8 366.7,384.4 366.7,384.9 366.8,385.5 366.9,386.1 366.9,386.7 367,387.3 367,387.9 367.1,388.5 367.2,389.1 367.2,389.7 367.3,390.3 367.3,390.9 367.4,391.5 367.4,392.1 367.5,392.7 367.5,393.3 367.6,393.9 367.6,394.5 367.7,395.1 367.8,395.7 367.8,396.3 367.9,396.9 367.9,397.5 368,398.1 368,398.7 368.1,399.3 368.1,399.9 368.2,400.5 368.2,401.1 368.3,401.7 368.3,402.3 368.4,402.9 368.4,403.5 368.5,404.1 368.5,404.7 368.6,405.3 368.6,405.9 368.7,406.5 368.7,407.1 368.8,407.7 368.8,408.3 368.9,408.9 368.9,409.5 369,410 369,410.6 369.1,411.2 369.1,411.8 369.2,412.4 369.2,413 369.3,413.6 369.3,414.2 369.4,414.8 369.4,415.4 369.5,416 369.5,416.6 369.6,417.2 369.6,417.8 369.7,418.4 369.7,419 369.8,419.6 369.8,420.2 369.9,420.8 369.9,421.4 370,422 370,422.6 370.1,423.2 370.1,423.8 370.2,424.4 370.2,425 370.3,425.6 370.3,426.2 370.4,426.8 370.4,427.4 370.5,428 370.5,428.6 370.6,429.2 370.6,429.8 370.7,430.4 370.7,431 370.8,431.6 370.8,432.2 370.9,432.8 370.9,433.4 371,434 371.1,434.6 371.1,435.2 371.2,435.8 371.2,436.4 371.3,437 371.3,437.6 371.4,438.1 371.4,438.7 371.5,439.3 371.5,439.9 371.6,440.5 371.6,441.1 371.7,441.7 371.7,442.3 371.8,442.9 371.8,443.5 371.9,444.1 371.9,444.7 372,445.3 372,445.9 372.1,446.5 372.1,447.1 372.2,447.7 372.2,448.3 372.3,448.9 372.3,449.5 372.4,450.1 372.4,450.7 372.5,451.3 372.5,451.9 372.6,452.5 372.6,453.1 372.7,453.7 372.7,454.3 372.8,454.9 372.9,455.5 372.9,456.1 373,456.7 373,457.3 373.1,457.9 373.1,458.5 373.2,459.1 373.2,459.7 373.3,460.3 373.3,460.9 373.4,461.5 373.4,462.1 373.5,462.7 373.5,463.3 373.6,463.9 373.6,464.5 373.7,465 373.7,465.6 373.8,466.2 373.8,466.8 373.9,467.4 373.9,468 374,468.6 374,469.2 374.1,469.8 374.1,470.4 374.2,471 374.3,471.6 374.3,472.2 374.4,472.8 374.4,473.4 374.5,474 374.5,474.6 374.6,475.2 374.6,475.8 374.7,476.4 374.7,477 374.8,477.6 374.8,478.2 374.9,478.8 374.9,479.4 375,480 375.1,480.6 375.1,481.2 375.2,481.8 375.2,482.4 375.3,483 375.3,483.6 375.4,484.2 375.5,484.8 375.5,485.4 375.6,486 375.7,486.6 375.7,487.2 375.8,487.8 375.9,488.3 375.9,488.9 376,489.5 376.1,490.1 376.1,490.7 376.2,491.3 376.3,491.9 376.3,492.5 376.4,493.1 376.5,493.7 376.5,494.3 376.6,494.9 376.7,495.5 376.7,496.1 376.8,496.7 376.9,497.3 376.9,497.9 377,498.5 377,499.1 377.1,499.7 377.2,500.3 377.2,500.9 377.3,501.5 377.3,502.1 377.4,502.7 377.5,503.3 377.5,503.9 377.6,504.5 377.6,505.1 377.7,505.6 377.7,506.2 377.8,506.8 377.9,507.4 377.9,508 378,508.6 378,509.2 378.1,509.8 378.1,510.4 378.2,511 378.3,511.6 378.3,512.2 378.4,512.8 378.4,513.4 378.5,514 378.5,514.6 378.6,515.2 378.7,515.8 378.7,516.4 378.8,517 378.8,517.6 378.9,518.2 379,518.8 379,519.4 379.1,520 379.2,520.6 379.2,521.2 379.3,521.8 379.4,522.4 379.4,523 379.5,523.6 379.6,524.2 379.6,524.7 379.7,525.3 379.8,525.9 379.8,526.5 379.9,527.1 380,527.7 380,528.3 380.1,528.9 380.2,529.5 380.2,530.1 380.3,530.7 380.4,531.3 380.4,531.9 380.5,532.5 380.5,533.1 380.6,533.7 380.7,534.3 380.7,534.9 380.8,535.5 380.9,536.1 380.9,536.7 381,537.3 381,537.9 381.1,538.5 381.2,539.1 381.2,539.7 381.3,540.3 381.3,540.9 381.4,541.5 381.5,542.1 381.5,542.7 381.6,543.2 381.6,543.8 381.7,544.4 381.8,545 381.8,545.6 381.9,546.2 382,546.8 382,547.4 382.1,548 382.2,548.6 382.2,549.2 382.3,549.8 382.4,550.4 382.5,551 382.5,551.6 382.6,552.2 382.7,552.8 382.8,553.4 382.9,554 383,554.6 383,555.2 383.1,555.7 383.2,556.3 383.3,556.9 383.4,557.5 383.5,558.1 383.6,558.7 383.7,559.3 383.7,559.9 383.8,560.5 383.9,561.1 384,561.7 384.1,562.3 384.2,562.9 384.3,563.5 384.4,564.1 384.5,564.6 384.5,565.2 384.6,565.8 384.7,566.4 384.8,567 384.9,567.6 385,568.2 385.1,568.8 385.2,569.4 385.3,570 385.4,570.6 385.5,571.2 385.6,571.8 385.7,572.4 385.8,572.9 385.9,573.5 385.9,574.1 386,574.7 386.1,575.3 386.2,575.9 386.3,576.5 386.4,577.1 386.5,577.7 386.6,578.3 386.7,578.9 386.9,579.5 387,580 387.1,580.6 387.2,581.2 387.3,581.8 387.4,582.4 387.6,583 387.7,583.6 387.8,584.2 387.9,584.7 388.1,585.3 388.2,585.9 388.3,586.5 388.5,587.1 388.6,587.7 388.7,588.3 388.9,588.8 389,589.4 389.2,590 389.3,590.6 389.4,591.2 389.6,591.8 389.7,592.3 389.9,592.9 390,593.5 390.2,594.1 390.4,594.6 390.5,595.2 390.7,595.8 390.9,596.4 391.1,596.9 391.3,597.5 391.5,598.1 391.7,598.6 391.9,599.2 392.1,599.7 392.4,600.3 392.6,600.8 392.9,601.3 393.2,601.8 393.5,602.3 393.8,602.8 394.2,603.3 394.6,603.7 394.9,604.2 395.3,604.6 395.8,605 396.2,605.4 396.6,605.7 397.1,606.1 397.6,606.4 398.1,606.7 398.6,606.9 399.1,607.2 399.7,607.4 400.2,607.6 400.8,607.8 401.4,607.9 401.9,608.1 402.5,608.2 403.1,608.3 403.7,608.4 404.3,608.5 404.9,608.5 405.5,608.6 406.1,608.7 406.7,608.7 407.3,608.7 407.8,608.8 408.4,608.8 409,608.8 409.6,608.8 410.2,608.9 410.8,608.9 411.4,608.9 412,608.9 412.6,608.9 413.2,609 413.8,609 414.4,609 415,609 415.6,609 416.2,609.1 416.8,609.1 417.4,609.1 418,609.1 418.6,609.2 419.2,609.2 419.8,609.2 420.4,609.2 421,609.3 421.6,609.3 422.2,609.3 422.8,609.3 423.4,609.3 424,609.4 424.6,609.4 425.2,609.4 425.8,609.4 426.4,609.5 427,609.5 427.6,609.5 428.2,609.5 428.8,609.5 429.4,609.6 430,609.6 430.6,609.6 431.2,609.6 431.8,609.6 432.4,609.6 433,609.7 433.6,609.7 434.2,609.7 434.8,609.7 435.4,609.7 436,609.7 436.6,609.7 437.2,609.7 437.8,609.7 438.4,609.8 439,609.8 439.6,609.8 440.2,609.8 440.8,609.8 441.4,609.8 442,609.8 442.6,609.8 443.2,609.9 443.8,609.9 444.4,609.9 445,609.9 445.6,609.9 446.2,609.9 446.8,609.9 447.4,609.9 448,609.9 448.6,610 449.2,610 449.8,610 450.4,610 451,610 451.6,610 452.2,610 452.8,610 453.4,610 454,610.1 454.6,610.1 455.2,610.1 455.8,610.1 456.4,610.1 457,610.1 457.6,610.1 458.2,610.1 458.8,610.1 459.4,610.2 460,610.2 460.6,610.2 461.2,610.2 461.8,610.2 462.4,610.2 463,610.2 463.6,610.2 464.2,610.2 464.8,610.3 465.4,610.3 466,610.3 466.6,610.3 467.2,610.3 467.8,610.3 468.4,610.3 469,610.3 469.6,610.3 470.2,610.4 470.8,610.4 471.4,610.4 472,610.4 472.6,610.4 473.2,610.4 473.8,610.4 474.4,610.4 475,610.5 475.6,610.5 476.2,610.5 476.8,610.5 477.4,610.5 478,610.5 478.6,610.5 479.2,610.5 479.8,610.5 480.4,610.6 481,610.6 481.6,610.6 482.2,610.6 482.8,610.6 483.4,610.6 484,610.6 484.6,610.6 485.2,610.6 485.8,610.7 486.4,610.7 487,610.7 487.6,610.7 488.2,610.7 488.8,610.7 489.4,610.7 490,610.7 490.6,610.7 491.2,610.8 491.8,610.8 492.4,610.8 493,610.8 493.6,610.8 494.2,610.8 494.8,610.8 495.4,610.8 496,610.8 496.6,610.9 497.2,610.9 497.8,610.9 498.4,610.9 499,610.9 499.6,610.9 500.2,610.9 500.8,610.9 501.4,610.9 502,611 502.6,611 503.2,611 503.8,611 504.4,611 505,611 505.6,611 506.2,611 506.8,611 507.4,611 508,611 508.6,611.1 509.2,611.1 509.8,611.1 510.4,611.1 511,611.1 511.6,611.1 512.2,611.1 512.8,611.1 513.4,611.1 514,611.1 514.6,611.1 515.2,611.1 515.8,611.1 516.4,611.1 517,611.1 517.6,611.2 518.2,611.2 518.8,611.2 519.4,611.2 520,611.2 520.6,611.2 521.2,611.2 521.8,611.2 522.4,611.2 523,611.2 523.6,611.2 524.2,611.2 524.8,611.2 525.4,611.2 526,611.3 526.6,611.3 527.2,611.3 527.8,611.3 528.4,611.3 529,611.3 529.6,611.3 530.2,611.3 530.8,611.3 531.4,611.3 532,611.3 532.6,611.3 533.2,611.3 533.8,611.3 534.4,611.3 535,611.4 535.6,611.4 536.2,611.4 536.8,611.4 537.4,611.4 538,611.4 538.6,611.4 539.2,611.4 539.8,611.4 540.4,611.4 541,611.4 541.6,611.4 542.2,611.4 542.8,611.4 543.4,611.4 544,611.5 544.6,611.5 545.2,611.5 545.8,611.5 546.4,611.5 547,611.5 547.6,611.5 548.2,611.5 548.8,611.5 549.4,611.5 550,611.5 550.6,611.5 551.2,611.5 551.8,611.5 552.4,611.6 553,611.6 553.6,611.6 554.2,611.6 554.8,611.6 555.4,611.6 556,611.6 556.6,611.6 557.2,611.6 557.8,611.6 558.4,611.6 559,611.6 559.6,611.6 560.2,611.6 560.8,611.6 561.4,611.7 562,611.7 562.6,611.7 563.2,611.7 563.8,611.7 564.4,611.7 565,611.7 565.6,611.7 566.2,611.7 566.8,611.7 567.4,611.7 568,611.7 568.6,611.7 569.2,611.7 569.8,611.8 570.4,611.8 571,611.8 571.6,611.8 572.2,611.8 572.8,611.8 573.4,611.8 574,611.8 574.6,611.8 575.2,611.8 575.8,611.8 576.4,611.8 577,611.8 577.6,611.8 578.2,611.8 578.8,611.9 579.4,611.9 580,611.9 580.6,611.9 581.2,611.9 581.8,611.9 582.4,611.9 583,611.9 583.6,611.9 584.2,611.9 584.8,611.9 585.4,611.9 586,611.9 586.6,611.9 587.2,611.9 587.8,612 588.4,612 589,612 589.6,612 590.2,612 590.8,612 591.4,612 592,612 592.6,612 593.2,612 593.8,612 594.4,612 595,612 595.6,612 596.2,612.1 596.8,612.1 597.4,612.1 598,612.1 598.6,612.1 599.2,612.1 599.8,612.1 600.4,612.1 601,612.1 601.6,612.1 602.2,612.1 602.8,612.1 603.4,612.1 604,612.1 604.6,612.1 605.2,612.2 605.8,612.2 606.4,612.2 607,612.2 607.6,612.2 608.2,612.2 608.8,612.2 609.4,612.2 610,612.2 610.6,612.2 611.2,612.2 611.8,612.2 612.4,612.2 613,612.2 613.6,612.2 614.2,612.3 614.8,612.3 615.4,612.3 616,612.3 616.6,612.3 617.2,612.3 617.8,612.3 618.4,612.3 619,612.3 619.6,612.3 620.2,612.3 620.8,612.3 621.4,612.3 622,612.3 622.6,612.3 623.2,612.3 623.8,612.3 624.4,612.3 625,612.3 625.6,612.3 626.2,612.3 626.8,612.3 627.4,612.3 628,612.3 628.6,612.4 629.2,612.4 629.8,612.4 630.4,612.4 631,612.4 631.6,612.4 632.2,612.4 632.8,612.4 633.4,612.4 634,612.4 634.6,612.4 635.2,612.4 635.8,612.4 636.4,612.4 637,612.4 637.6,612.4 638.2,612.4 638.8,612.4 639.4,612.4 640,612.4 640.6,612.4 641.2,612.4 641.8,612.4 642.4,612.4 643,612.4 643.6,612.4 644.2,612.4 644.8,612.4 645.4,612.4 646,612.4 646.6,612.4 647.2,612.4 647.8,612.4 648.4,612.4 649,612.5 649.6,612.5 650.2,612.5 650.8,612.5 651.4,612.5 652,612.5 652.6,612.5 653.2,612.5 653.8,612.5 654.4,612.5 655,612.5 655.6,612.5 656.2,612.5 656.8,612.5 657.4,612.5 658,612.5 658.6,612.5 659.2,612.5 659.8,612.5 660.4,612.5 661,612.5 661.6,612.5 662.2,612.5 662.8,612.5 663.4,612.5 664,612.5 664.6,612.5 665.2,612.5 665.8,612.5 666.4,612.5 667,612.5 667.6,612.5 668.2,612.5 668.8,612.6 669.4,612.6 670,612.6 670.6,612.6 671.2,612.6 671.8,612.6 672.4,612.6 673,612.6 673.6,612.6 674.2,612.6 674.8,612.6 675.4,612.6 676,612.6 676.6,612.6 677.2,612.6 677.8,612.6 678.4,612.6 679,612.6 679.6,612.6 680.2,612.6 680.8,612.6 681.4,612.6 682,612.6 682.6,612.6 683.2,612.6 683.8,612.6 684.4,612.6 685,612.6 685.6,612.6 686.2,612.6 686.8,612.6 687.4,612.6 688,612.6 688.6,612.6 689.2,612.7 689.8,612.7 690.4,612.7 691,612.7 691.6,612.7 692.2,612.7 692.8,612.7 693.4,612.7 694,612.7 694.6,612.7 695.2,612.7 695.8,612.7 696.4,612.7 697,612.7 697.6,612.7 698.2,612.7 698.8,612.7 699.4,612.7 700,612.7 700.6,612.7 701.2,612.7 701.8,612.7 702.4,612.7 703,612.7 703.6,612.7 704.2,612.7 704.8,612.7 705.4,612.7 706,612.7 706.6,612.7 707.2,612.7 707.8,612.7 708.4,612.7 709,612.7 709.6,612.8 710.2,612.8 710.8,612.8 711.4,612.8 712,612.8 712.6,612.8 713.2,612.8 713.8,612.8 714.4,612.8 715,612.8 715.6,612.8 716.2,612.8 716.8,612.8 717.4,612.8 718,612.8 718.6,612.8 719.2,612.8 719.8,612.8 720.4,612.8 721,612.8 721.6,612.8 722.2,612.8 722.8,612.8 723.4,612.8 724,612.8 724.6,612.8 725.2,612.8 725.8,612.8 726.4,612.8 727,612.8 727.6,612.8 728.2,612.8 728.8,612.8 729.4,612.8 730,612.9 730.6,612.9 731.2,612.9 731.8,612.9 732.4,612.9 733,612.9 733.6,612.9 734.2,612.9 734.8,612.9 735.4,612.9 736,612.9 736.6,612.9 737.2,612.9 737.8,612.9 738.4,612.9 739,612.9 739.6,612.9 740.2,612.9 740.8,612.9 741.4,612.9 742,612.9 742.6,612.9 743.2,612.9 743.8,612.9 744.4,612.9 745,612.9 745.6,612.9 746.2,612.9 746.8,612.9 747.4,612.9 748,612.9 748.6,612.9 749.2,612.9 749.8,612.9 750.4,613 751,613 751.6,613 752.2,613 752.8,613 753.4,613 754,613 754.6,613 755.2,613 755.8,613 756.4,613 757,613 757.6,613 758.2,613 758.8,613 759.4,613 760,613 760.6,613 761.2,613 761.8,613 762.4,613 763,613 763.6,613 764.2,613 764.8,613 765.4,613 766,613 766.6,613 767.2,613 767.8,613 768.4,613 769,613 769.6,613 770.2,613 770.8,613 771.4,613 772,613 772.6,613 773.2,613 773.8,613 774.4,613 775,613 775.6,613 776.2,613 776.8,613 777.4,613 778,613 778.6,613.1 779.2,613.1 779.8,613.1 780.4,613.1 781,613.1 781.6,613.1 782.2,613.1 782.8,613.1 783.4,613.1 784,613.1 784.6,613.1 785.2,613.1 785.8,613.1 786.4,613.1 787,613.1 787.6,613.1 788.2,613.1 788.8,613.1 789.4,613.1 790,613.1 790.6,613.1 791.2,613.1 791.8,613.1 792.4,613.1 793,613.1 793.6,613.1 794.2,613.1 794.8,613.1 795.4,613.1 796,613.1 796.6,613.1 797.2,613.1 797.8,613.1 798.4,613.1 799,613.1 799.6,613.1 800.2,613.1 800.8,613.1 801.4,613.1 802,613.1 802.6,613.1 803.2,613.1 803.8,613.1 804.4,613.1 805,613.1 805.6,613.1 806.2,613.1 806.8,613.1 807.4,613.1 808,613.1 808.6,613.1 809.2,613.1 809.8,613.1 810.4,613.1 811,613.1 811.6,613.1 812.2,613.1 812.8,613.1 813.4,613.1 814,613.1 814.6,613.1 815.2,613.2 815.8,613.2 816.4,613.2 817,613.2 817.6,613.2 818.2,613.2 818.8,613.2 819.4,613.2 820,613.2 820.6,613.2 821.2,613.2 821.8,613.2 822.4,613.2 823,613.2 823.6,613.2 824.2,613.2 824.8,613.2 825.4,613.2 826,613.2 826.6,613.2 827.2,613.2 827.8,613.2 828.4,613.2 829,613.2 829.6,613.2 830.2,613.2 830.8,613.2 831.4,613.2 832,613.2 832.6,613.2 833.2,613.2 833.8,613.2 834.4,613.2 835,613.2 835.6,613.2 836.2,613.2 836.8,613.2 837.4,613.2 838,613.2 838.6,613.2 839.2,613.2 839.8,613.2 840.4,613.2 841,613.2 841.6,613.2 842.2,613.2 842.8,613.2 843.4,613.2 844,613.2 844.6,613.2 845.2,613.2 845.8,613.2 846.4,613.2 847,613.2 847.6,613.2 848.2,613.2 848.8,613.2 849.4,613.2 850,613.2 850.6,613.2 851.2,613.2 851.8,613.2 852.4,613.3 853,613.3 853.6,613.3 854.2,613.3 854.8,613.3 855.4,613.3 856,613.3 856.6,613.3 857.2,613.3 857.8,613.3 858.4,613.3 859,613.3 859.6,613.3 860.2,613.3 860.8,613.3 861.4,613.3 862,613.3 862.6,613.3 863.2,613.3 863.8,613.3 864.4,613.3 865,613.3 865.6,613.3 866.2,613.3 866.8,613.3 867.4,613.3 868,613.3 868.6,613.3 869.2,613.3 869.8,613.3 870.4,613.3 871,613.3 871.6,613.3 872.2,613.3 872.8,613.3 873.4,613.3 874,613.3 874.6,613.3 875.2,613.3 875.8,613.3 876.4,613.3 877,613.3 877.6,613.3 878.2,613.3 878.8,613.3 879.4,613.3 880,613.3 880.6,613.3 881.2,613.3 881.8,613.3 882.4,613.3 883,613.3 883.6,613.3 884.2,613.3 884.8,613.3 885.4,613.3 886,613.3 886.6,613.3 887.2,613.3 887.8,613.3 888.4,613.3 889,613.4 889.6,613.4 890.2,613.4 890.8,613.4 891.4,613.4 892,613.4 892.6,613.4 893.2,613.4 893.8,613.4 894.4,613.4 895,613.4 895.6,613.4 896.2,613.4 896.8,613.4 897.4,613.4 898,613.4 898.6,613.4 899.2,613.4 899.8,613.4 900.4,613.4 901,613.4 901.6,613.4 902.2,613.4 902.8,613.4 903.4,613.4 904,613.4 904.6,613.4 905.2,613.4 905.8,613.4 906.4,613.4 907,613.4 907.6,613.4 908.2,613.4 908.8,613.4 909.4,613.4 910,613.4 910.6,613.4 911.2,613.4 911.8,613.4 912.4,613.4 913,613.4 913.6,613.4 914.2,613.4 914.8,613.4 915.4,613.4 916,613.4 916.6,613.4 917.2,613.4 917.8,613.4 918.4,613.4 919,613.4 919.6,613.4 920.2,613.4 920.8,613.4 921.4,613.4 922,613.4 922.6,613.4 923.2,613.4 923.8,613.4 924.4,613.4 925,613.4 925.6,613.5 926.2,613.5 926.8,613.5 927.4,613.5 928,613.5 928.6,613.5 929.2,613.5 929.8,613.5 930.4,613.5 931,613.5 931.6,613.5 932.2,613.5 932.8,613.5 933.4,613.5 934,613.5 934.6,613.5 935.2,613.5 935.8,613.5 936.4,613.5 937,613.5 937.6,613.5 938.2,613.5 938.8,613.5 939.4,613.5 940,613.5 940.6,613.5 941.2,613.5 941.8,613.5 942.4,613.5 943,613.5 943.5,613.5 943.9,613.5" fill="none" stroke="#3566c8" stroke-width="11.4" stroke-linecap="round" stroke-linejoin="round"/>
<path d="M151.6,419L157.6,425L151.6,431L145.6,425Z" fill="#ff0000"/>
<rect x="145.6" y="464.7" width="12" height="12" fill="#ee7a30"/>
<path d="M145.6,521.8L151.6,511.6L157.6,521.8Z" fill="#000"/>
<circle cx="151.3" cy="561.6" r="5.8" fill="#1268c4"/>
</svg>
<div class="t yl" style="right:891px;top:601.0px">0</div>
<div class="t yl" style="right:893.5px;top:481.5px">20</div>
<div class="t yl" style="right:893.5px;top:361.2px">40</div>
<div class="t yl" style="right:893.5px;top:238.6px">60</div>
<div class="t yl" style="right:893.5px;top:116.5px">80</div>
<div class="t yl" style="right:893.5px;top:-1.9px">100</div>
<div class="t xl" style="left:105.3px;top:648.9px">0</div>
<div class="t xl" style="left:210.6px;top:647.0px">100</div>
<div class="t xl" style="left:313.2px;top:648.9px">200</div>
<div class="t xl" style="left:417.0px;top:648.9px">300</div>
<div class="t xl" style="left:520.4px;top:648.9px">400</div>
<div class="t xl" style="left:624.0px;top:648.9px">500</div>
<div class="t xl" style="left:728.1px;top:648.9px">600</div>
<div class="t xl" style="left:837.6px;top:648.9px">700</div>
<div class="t xl" style="left:944.1px;top:648.9px">800</div>
<div class="t lg" style="top:411.4px">1 wt% GNP</div>
<div class="t lg" style="top:456.7px">0.25 wt% GNP</div>
<div class="t lg" style="top:503.0px">0.05 wt% GNP</div>
<div class="t lg" style="top:548.3px">0.005 wt% GNP</div>
<div class="t ttl" style="left:525px;top:686.8px;transform:translateX(-50%)">Temperature (ºC)</div>
<div id="yclip"><div class="t ttl" id="yt" style="left:0;top:0;transform-origin:0 0;transform:translate(-9.0px,240.7px) rotate(-90deg) scale(1,1.06)">Weight loss (%)</div></div>
</div></body></html>
